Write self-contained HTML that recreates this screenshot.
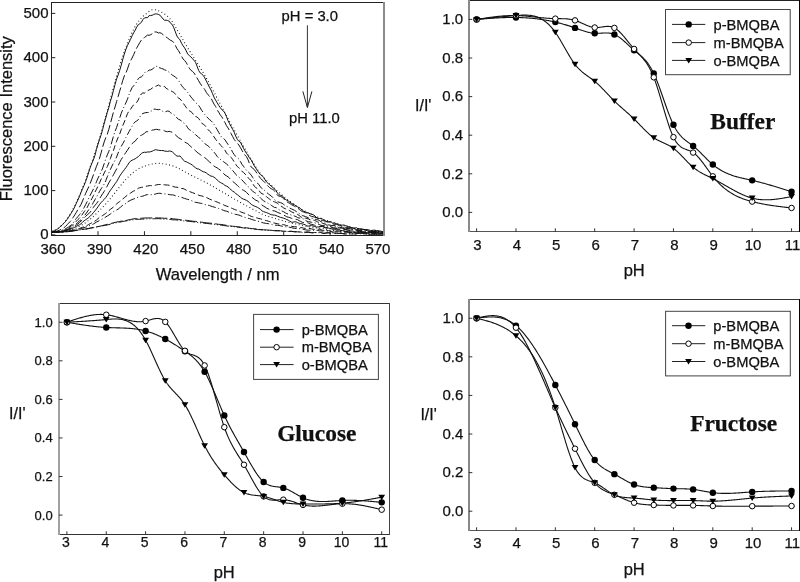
<!DOCTYPE html>
<html><head><meta charset="utf-8"><style>
html,body{margin:0;padding:0;background:#fff;}
svg{display:block;filter:grayscale(1);}
text{fill:#111;stroke:#111;stroke-width:0.25px;}
</style></head><body>
<svg width="800" height="582" viewBox="0 0 800 582">
<defs><clipPath id="clipA"><rect x="51.5" y="2.5" width="332.5" height="232.5"/></clipPath></defs>
<rect width="800" height="582" fill="#fff"/>
<g clip-path="url(#clipA)">
<path d="M51.6,231.35 L53.15,230.93 L54.69,230.27 L56.24,229.42 L57.79,228.44 L59.34,227.38 L60.88,226.14 L62.43,224.62 L63.98,222.88 L65.53,220.97 L67.07,218.94 L68.62,216.71 L70.17,214.22 L71.72,211.49 L73.26,208.6 L74.81,205.59 L76.36,202.4 L77.9,198.98 L79.45,195.36 L81,191.61 L82.55,187.77 L84.09,183.81 L85.64,179.67 L87.19,175.4 L88.74,171.04 L90.28,166.61 L91.83,162.13 L93.38,157.57 L94.93,152.91 L96.47,148.13 L98.02,143.21 L99.57,138.13 L101.11,132.87 L102.66,127.49 L104.21,122.01 L105.76,116.47 L107.3,110.78 L108.85,104.93 L110.4,99.02 L111.95,93.17 L113.49,87.49 L115.04,81.9 L116.59,76.33 L118.14,70.89 L119.68,65.66 L121.23,60.74 L122.78,56.09 L124.32,51.61 L125.87,47.34 L127.42,43.32 L128.97,39.58 L130.51,36.02 L132.06,32.59 L133.61,29.38 L135.16,26.49 L136.7,23.99 L138.25,21.82 L139.8,19.82 L141.35,18.03 L142.89,16.45 L144.44,15.11 L145.99,13.85 L147.53,12.58 L149.08,11.42 L150.63,10.46 L152.18,9.81 L153.72,9.58 L155.27,9.73 L156.82,10.11 L158.37,10.69 L159.91,11.39 L161.46,12.18 L163.01,12.99 L164.56,13.93 L166.1,15.11 L167.65,16.49 L169.2,18.04 L170.74,19.73 L172.29,21.72 L173.84,24.09 L175.39,26.7 L176.93,29.41 L178.48,32.06 L180.03,34.69 L181.58,37.41 L183.12,40.15 L184.67,42.87 L186.22,45.5 L187.77,48.03 L189.31,50.51 L190.86,52.95 L192.41,55.38 L193.95,57.83 L195.5,60.27 L197.05,62.71 L198.6,65.15 L200.14,67.62 L201.69,70.15 L203.24,72.75 L204.79,75.39 L206.33,78.09 L207.88,80.82 L209.43,83.6 L210.98,86.43 L212.52,89.34 L214.07,92.28 L215.62,95.22 L217.16,98.15 L218.71,101.07 L220.26,103.98 L221.81,106.89 L223.35,109.8 L224.9,112.71 L226.45,115.64 L228,118.59 L229.54,121.53 L231.09,124.44 L232.64,127.27 L234.19,130.03 L235.73,132.73 L237.28,135.39 L238.83,138.04 L240.37,140.72 L241.92,143.42 L243.47,146.15 L245.02,148.87 L246.56,151.55 L248.11,154.16 L249.66,156.75 L251.21,159.36 L252.75,161.96 L254.3,164.52 L255.85,167 L257.4,169.37 L258.94,171.6 L260.49,173.66 L262.04,175.56 L263.58,177.36 L265.13,179.08 L266.68,180.73 L268.23,182.31 L269.77,183.83 L271.32,185.31 L272.87,186.79 L274.42,188.28 L275.96,189.75 L277.51,191.15 L279.06,192.48 L280.61,193.79 L282.15,195.12 L283.7,196.43 L285.25,197.69 L286.79,198.99 L288.34,200.24 L289.89,201.39 L291.44,202.48 L292.98,203.62 L294.53,204.77 L296.08,205.82 L297.63,206.78 L299.17,207.74 L300.72,208.73 L302.27,209.67 L303.82,210.46 L305.36,211.17 L306.91,212.18 L308.46,213.06 L310,213.93 L311.55,214.51 L313.1,215.2 L314.65,215.71 L316.19,216.28 L317.74,216.99 L319.29,217.59 L320.84,218.3 L322.38,219 L323.93,219.68 L325.48,220.25 L327.03,220.58 L328.57,220.98 L330.12,221.19 L331.67,221.95 L333.21,222.74 L334.76,223.5 L336.31,223.84 L337.86,224.28 L339.4,224.74 L340.95,225.22 L342.5,225.35 L344.05,225.82 L345.59,226.16 L347.14,226.75 L348.69,227.21 L350.24,227.79 L351.78,228.15 L353.33,228.31 L354.88,228.28 L356.42,228.3 L357.97,228.51 L359.52,228.63 L361.07,228.79 L362.61,229.1 L364.16,229.55 L365.71,230.01 L367.26,230.17 L368.8,230.44 L370.35,230.41 L371.9,230.57 L373.45,230.38 L374.99,230.57 L376.54,230.88 L378.09,231.15 L379.63,231.3 L381.18,231.39 L382.73,231.54 L384.28,231.59 L385.82,231.69" fill="none" stroke="#111" stroke-width="1.1" stroke-dasharray="0.9,2.6" stroke-linecap="butt"/>
<path d="M51.6,231.46 L53.15,231.09 L54.69,230.61 L56.24,229.81 L57.79,228.91 L59.34,227.56 L60.88,226.07 L62.43,224.67 L63.98,223.26 L65.53,221.52 L67.07,219.42 L68.62,217.24 L70.17,214.77 L71.72,212.34 L73.26,209.81 L74.81,206.71 L76.36,203.14 L77.9,200.03 L79.45,196.42 L81,192.41 L82.55,188.61 L84.09,185.32 L85.64,181.5 L87.19,177.09 L88.74,172.06 L90.28,167.34 L91.83,163.29 L93.38,159.94 L94.93,155.48 L96.47,149.39 L98.02,143.98 L99.57,139.25 L101.11,134.83 L102.66,129.43 L104.21,123.16 L105.76,117.83 L107.3,112.32 L108.85,107.41 L110.4,101.14 L111.95,96.31 L113.49,90.22 L115.04,84.62 L116.59,78.85 L118.14,74.98 L119.68,70.4 L121.23,65.26 L122.78,59.36 L124.32,54.01 L125.87,49.48 L127.42,45.6 L128.97,42.46 L130.51,39.34 L132.06,35.89 L133.61,32.87 L135.16,30.25 L136.7,27.19 L138.25,24.72 L139.8,23.68 L141.35,22.41 L142.89,19.57 L144.44,17.9 L145.99,17.64 L147.53,17.69 L149.08,15.63 L150.63,15.54 L152.18,15.24 L153.72,14.56 L155.27,13.85 L156.82,13.94 L158.37,14.42 L159.91,15.15 L161.46,16.99 L163.01,18.96 L164.56,20.26 L166.1,20.16 L167.65,20.59 L169.2,21.15 L170.74,23.44 L172.29,24.6 L173.84,27.84 L175.39,31.95 L176.93,36.04 L178.48,38.19 L180.03,39.92 L181.58,43.32 L183.12,45.93 L184.67,47.93 L186.22,50.91 L187.77,54.21 L189.31,55.52 L190.86,56.88 L192.41,58.58 L193.95,60.32 L195.5,62.32 L197.05,66.17 L198.6,70.38 L200.14,72.86 L201.69,73.96 L203.24,75.47 L204.79,77.86 L206.33,81.17 L207.88,84.01 L209.43,87.14 L210.98,89.98 L212.52,93.63 L214.07,97.23 L215.62,100.22 L217.16,102.79 L218.71,105.42 L220.26,107.65 L221.81,109.73 L223.35,110.82 L224.9,113.09 L226.45,116.54 L228,120.69 L229.54,123.62 L231.09,126.55 L232.64,129.34 L234.19,132.28 L235.73,136.24 L237.28,139.29 L238.83,141.24 L240.37,142.12 L241.92,145.09 L243.47,148.28 L245.02,150.99 L246.56,153.41 L248.11,155.76 L249.66,158.17 L251.21,160.13 L252.75,162.96 L254.3,165.98 L255.85,168.13 L257.4,170.63 L258.94,172.82 L260.49,174.76 L262.04,175.58 L263.58,177.48 L265.13,179.96 L266.68,182.14 L268.23,183.53 L269.77,184.77 L271.32,186.35 L272.87,187.31 L274.42,188.92 L275.96,190.58 L277.51,193.05 L279.06,194.72 L280.61,195.37 L282.15,195.85 L283.7,197.29 L285.25,199.35 L286.79,200.22 L288.34,200.95 L289.89,202.11 L291.44,203.33 L292.98,204.21 L294.53,204.75 L296.08,206.14 L297.63,206.86 L299.17,207.72 L300.72,208.66 L302.27,210.29 L303.82,211.39 L305.36,211.92 L306.91,212.54 L308.46,213.04 L310,213.73 L311.55,214.03 L313.1,214.74 L314.65,215.65 L316.19,217.33 L317.74,218.3 L319.29,218.46 L320.84,218.42 L322.38,219 L323.93,219.9 L325.48,220.73 L327.03,221.7 L328.57,221.77 L330.12,221.91 L331.67,222.41 L333.21,223.73 L334.76,224.36 L336.31,224.16 L337.86,223.95 L339.4,224.62 L340.95,225.15 L342.5,225.1 L344.05,225.05 L345.59,225.64 L347.14,226.1 L348.69,226.53 L350.24,226.91 L351.78,227.68 L353.33,227.85 L354.88,228.05 L356.42,227.72 L357.97,228.66 L359.52,229.09 L361.07,229.33 L362.61,229.11 L364.16,229.46 L365.71,229.63 L367.26,229.58 L368.8,229.99 L370.35,230.44 L371.9,230.47 L373.45,230.13 L374.99,230.21 L376.54,230.65 L378.09,231.03 L379.63,230.95 L381.18,231.26 L382.73,231.86 L384.28,232.19 L385.82,231.97" fill="none" stroke="#111" stroke-width="1.0" stroke-linecap="butt"/>
<path d="M51.6,232.13 L53.15,231.93 L54.69,231.59 L56.24,231.33 L57.79,230.83 L59.34,230.27 L60.88,229.4 L62.43,228.63 L63.98,227.67 L65.53,226.43 L67.07,224.79 L68.62,223.14 L70.17,221.54 L71.72,219.54 L73.26,217.27 L74.81,214.89 L76.36,212.27 L77.9,209.67 L79.45,207.1 L81,204.43 L82.55,200.92 L84.09,197.18 L85.64,193.37 L87.19,190.11 L88.74,186.85 L90.28,183.19 L91.83,179.13 L93.38,174.83 L94.93,170.56 L96.47,166.38 L98.02,162.44 L99.57,158.17 L101.11,152.82 L102.66,146.97 L104.21,141.9 L105.76,137.7 L107.3,134.24 L108.85,129.22 L110.4,123.57 L111.95,117.65 L113.49,112.02 L115.04,106.94 L116.59,101.63 L118.14,96.48 L119.68,91.11 L121.23,85.83 L122.78,80.36 L124.32,75.93 L125.87,73.03 L127.42,69.18 L128.97,64.41 L130.51,60.85 L132.06,58.1 L133.61,54.76 L135.16,51.19 L136.7,47.93 L138.25,45.31 L139.8,42.5 L141.35,40.22 L142.89,38.53 L144.44,37.56 L145.99,36.31 L147.53,35.13 L149.08,35.24 L150.63,34.75 L152.18,33.86 L153.72,31.99 L155.27,31.91 L156.82,32.07 L158.37,32.99 L159.91,32.74 L161.46,33.33 L163.01,34.58 L164.56,36.06 L166.1,37.11 L167.65,38.08 L169.2,39.37 L170.74,40.44 L172.29,41.05 L173.84,42.76 L175.39,45.38 L176.93,48.67 L178.48,50.61 L180.03,53.43 L181.58,56.31 L183.12,58.99 L184.67,60.54 L186.22,62.58 L187.77,65.24 L189.31,68.22 L190.86,70.23 L192.41,71.33 L193.95,72.85 L195.5,75.35 L197.05,78.01 L198.6,80.71 L200.14,83.31 L201.69,85.73 L203.24,87.46 L204.79,89.59 L206.33,92.4 L207.88,94.62 L209.43,96.03 L210.98,98.06 L212.52,101.17 L214.07,104.26 L215.62,106.49 L217.16,109.81 L218.71,112.2 L220.26,114.9 L221.81,116.72 L223.35,119.7 L224.9,122.43 L226.45,125.61 L228,127.91 L229.54,130.6 L231.09,133.52 L232.64,136.54 L234.19,139.38 L235.73,141.4 L237.28,143.12 L238.83,145.02 L240.37,147.52 L241.92,150.28 L243.47,152.95 L245.02,155.12 L246.56,156.78 L248.11,159.92 L249.66,164.09 L251.21,167.09 L252.75,168.22 L254.3,169.51 L255.85,171.72 L257.4,174.04 L258.94,176.2 L260.49,178.21 L262.04,179.91 L263.58,181.22 L265.13,182.82 L266.68,184.72 L268.23,186.26 L269.77,187.79 L271.32,188.77 L272.87,189.47 L274.42,190.75 L275.96,193.17 L277.51,195.31 L279.06,196.15 L280.61,196.54 L282.15,197.33 L283.7,198.8 L285.25,200.56 L286.79,201.64 L288.34,202.65 L289.89,203.45 L291.44,204.68 L292.98,205.35 L294.53,206.36 L296.08,207.1 L297.63,208.04 L299.17,209.38 L300.72,210.55 L302.27,211.52 L303.82,212.07 L305.36,212.62 L306.91,213.38 L308.46,214.48 L310,215.71 L311.55,216.4 L313.1,216.67 L314.65,217.24 L316.19,217.63 L317.74,218.18 L319.29,218.69 L320.84,219.93 L322.38,220.59 L323.93,220.77 L325.48,221.37 L327.03,221.86 L328.57,221.87 L330.12,221.79 L331.67,222.56 L333.21,222.83 L334.76,222.91 L336.31,223.79 L337.86,224.98 L339.4,225.64 L340.95,225.85 L342.5,226.78 L344.05,227.1 L345.59,227.32 L347.14,227.19 L348.69,227.66 L350.24,227.65 L351.78,227.98 L353.33,228.48 L354.88,228.85 L356.42,228.61 L357.97,228.67 L359.52,228.82 L361.07,229.15 L362.61,229.47 L364.16,229.67 L365.71,229.93 L367.26,229.94 L368.8,230.39 L370.35,230.39 L371.9,230.94 L373.45,231.27 L374.99,231.25 L376.54,230.97 L378.09,230.99 L379.63,231.43 L381.18,231.53 L382.73,231.87 L384.28,232.24 L385.82,232.41" fill="none" stroke="#111" stroke-width="1.0" stroke-dasharray="10,3" stroke-linecap="butt"/>
<path d="M51.6,232.27 L53.15,232.24 L54.69,232.1 L56.24,231.87 L57.79,231.65 L59.34,231.22 L60.88,230.6 L62.43,229.87 L63.98,229.25 L65.53,228.62 L67.07,227.97 L68.62,226.92 L70.17,225.78 L71.72,224.37 L73.26,222.69 L74.81,220.51 L76.36,218.38 L77.9,216.61 L79.45,214.72 L81,212.7 L82.55,210.13 L84.09,207.6 L85.64,204.66 L87.19,201.45 L88.74,198.24 L90.28,195.05 L91.83,192.1 L93.38,189.09 L94.93,185.83 L96.47,181.72 L98.02,178.1 L99.57,174.92 L101.11,171.94 L102.66,168.09 L104.21,163.7 L105.76,158.99 L107.3,154.89 L108.85,151.28 L110.4,146.78 L111.95,141.55 L113.49,136.08 L115.04,131.39 L116.59,127.51 L118.14,122.76 L119.68,118 L121.23,113.37 L122.78,109.51 L124.32,106.22 L125.87,102.83 L127.42,99.31 L128.97,94.86 L130.51,90.99 L132.06,87.62 L133.61,85.85 L135.16,84.21 L136.7,81.65 L138.25,78.7 L139.8,77.42 L141.35,76.92 L142.89,75.4 L144.44,73.1 L145.99,71.31 L147.53,71.45 L149.08,70.11 L150.63,69.98 L152.18,69.28 L153.72,68.15 L155.27,66.2 L156.82,66.26 L158.37,67.89 L159.91,67.78 L161.46,68.56 L163.01,68.87 L164.56,69.79 L166.1,70.33 L167.65,71.01 L169.2,72.38 L170.74,73.65 L172.29,75.16 L173.84,75.94 L175.39,77.12 L176.93,78.44 L178.48,80.31 L180.03,82.93 L181.58,85.53 L183.12,87.54 L184.67,88.98 L186.22,90.72 L187.77,92.53 L189.31,94.74 L190.86,96.93 L192.41,98.66 L193.95,100.62 L195.5,102.34 L197.05,103.78 L198.6,105.41 L200.14,107.59 L201.69,110.48 L203.24,112.31 L204.79,114.62 L206.33,116.22 L207.88,118.06 L209.43,119.47 L210.98,120.7 L212.52,122.3 L214.07,124.41 L215.62,127.14 L217.16,129.61 L218.71,132.36 L220.26,135.21 L221.81,137.36 L223.35,138.45 L224.9,139.65 L226.45,142.16 L228,144.44 L229.54,146.69 L231.09,149.14 L232.64,152.25 L234.19,154.61 L235.73,156.53 L237.28,157.48 L238.83,159.01 L240.37,161.45 L241.92,164.28 L243.47,166.23 L245.02,168.41 L246.56,170.35 L248.11,171.92 L249.66,173.27 L251.21,175.11 L252.75,177.55 L254.3,180.19 L255.85,181.95 L257.4,182.96 L258.94,184.75 L260.49,186.95 L262.04,188.66 L263.58,189.64 L265.13,190.97 L266.68,192.43 L268.23,193.82 L269.77,194.97 L271.32,196.03 L272.87,197.63 L274.42,199.58 L275.96,200.92 L277.51,201.78 L279.06,202.17 L280.61,202.72 L282.15,203.28 L283.7,204.45 L285.25,205.61 L286.79,206.33 L288.34,207.25 L289.89,208.1 L291.44,208.96 L292.98,209.6 L294.53,210.35 L296.08,211.4 L297.63,212.22 L299.17,213.43 L300.72,214.35 L302.27,215.54 L303.82,215.96 L305.36,216.57 L306.91,217.07 L308.46,217.98 L310,218.21 L311.55,218.19 L313.1,218.37 L314.65,218.9 L316.19,219.61 L317.74,219.74 L319.29,220.47 L320.84,221.62 L322.38,222.39 L323.93,222.65 L325.48,223.1 L327.03,224.13 L328.57,224.9 L330.12,225.18 L331.67,225.56 L333.21,225.27 L334.76,225.25 L336.31,225.82 L337.86,227.07 L339.4,227.67 L340.95,227.98 L342.5,228.07 L344.05,228.12 L345.59,228.15 L347.14,228.59 L348.69,228.73 L350.24,228.44 L351.78,228.18 L353.33,228.52 L354.88,228.97 L356.42,229.6 L357.97,229.82 L359.52,230.3 L361.07,230.26 L362.61,230.65 L364.16,230.94 L365.71,231.22 L367.26,230.93 L368.8,231.12 L370.35,231.49 L371.9,231.64 L373.45,231.39 L374.99,231.56 L376.54,231.76 L378.09,231.9 L379.63,231.6 L381.18,231.51 L382.73,231.87 L384.28,232.78 L385.82,233.03" fill="none" stroke="#111" stroke-width="1.0" stroke-dasharray="8,2.5,1,2.5" stroke-linecap="butt"/>
<path d="M51.6,232.15 L53.15,232.06 L54.69,231.94 L56.24,231.89 L57.79,231.87 L59.34,231.7 L60.88,231.25 L62.43,230.61 L63.98,230.17 L65.53,229.55 L67.07,228.91 L68.62,227.82 L70.17,226.78 L71.72,225.64 L73.26,224.53 L74.81,222.92 L76.36,221.19 L77.9,219.56 L79.45,218.13 L81,216.42 L82.55,214.03 L84.09,211.87 L85.64,209.75 L87.19,207.46 L88.74,204.24 L90.28,201.48 L91.83,198.65 L93.38,195.67 L94.93,192.29 L96.47,189.31 L98.02,185.96 L99.57,182.77 L101.11,179.14 L102.66,176.41 L104.21,172.93 L105.76,169.95 L107.3,166.57 L108.85,162.91 L110.4,158.64 L111.95,154.14 L113.49,150.43 L115.04,145.54 L116.59,141.2 L118.14,137.38 L119.68,134.13 L121.23,129.67 L122.78,125.59 L124.32,122.02 L125.87,117.94 L127.42,113.75 L128.97,111.03 L130.51,109.38 L132.06,106.88 L133.61,104.85 L135.16,103.85 L136.7,102.39 L138.25,99.95 L139.8,96.17 L141.35,93.93 L142.89,92.83 L144.44,93.2 L145.99,92.03 L147.53,90.82 L149.08,89.93 L150.63,89.35 L152.18,88.07 L153.72,87.09 L155.27,86.57 L156.82,85.83 L158.37,84.97 L159.91,86.01 L161.46,86.31 L163.01,86.85 L164.56,86.37 L166.1,88.32 L167.65,89.16 L169.2,90.25 L170.74,90.78 L172.29,91.56 L173.84,92.36 L175.39,94.23 L176.93,96.49 L178.48,98.02 L180.03,98.89 L181.58,100.74 L183.12,103.08 L184.67,105.24 L186.22,107.36 L187.77,109.72 L189.31,110.71 L190.86,111.64 L192.41,112.95 L193.95,115.48 L195.5,116.47 L197.05,117.08 L198.6,118.41 L200.14,120.62 L201.69,123.17 L203.24,124.15 L204.79,125.3 L206.33,127.16 L207.88,129.35 L209.43,131.07 L210.98,132.49 L212.52,134.66 L214.07,136.94 L215.62,139.34 L217.16,141.15 L218.71,142.7 L220.26,144.86 L221.81,146.36 L223.35,147.97 L224.9,150.02 L226.45,152.96 L228,154.56 L229.54,155.78 L231.09,157.36 L232.64,159.32 L234.19,162 L235.73,164.33 L237.28,166.45 L238.83,167.73 L240.37,169.15 L241.92,171.34 L243.47,172.38 L245.02,174.04 L246.56,175.52 L248.11,177.88 L249.66,179.09 L251.21,180.84 L252.75,183.68 L254.3,186.22 L255.85,187.6 L257.4,188.56 L258.94,190.32 L260.49,192.7 L262.04,193.7 L263.58,194.35 L265.13,195.29 L266.68,196.93 L268.23,198.14 L269.77,199.28 L271.32,200.43 L272.87,201.29 L274.42,201.83 L275.96,202.4 L277.51,203.35 L279.06,204.64 L280.61,205.81 L282.15,206.81 L283.7,207.97 L285.25,208.72 L286.79,209.32 L288.34,209.94 L289.89,210.82 L291.44,211.74 L292.98,212.52 L294.53,213.17 L296.08,213.68 L297.63,214.5 L299.17,215.46 L300.72,216.75 L302.27,217.69 L303.82,218.22 L305.36,218.15 L306.91,218.46 L308.46,218.98 L310,219.78 L311.55,219.99 L313.1,219.97 L314.65,220.4 L316.19,221.16 L317.74,221.96 L319.29,222.58 L320.84,222.96 L322.38,223.28 L323.93,223.64 L325.48,224.43 L327.03,225.33 L328.57,226.27 L330.12,226.48 L331.67,225.97 L333.21,225.45 L334.76,225.95 L336.31,227.18 L337.86,227.63 L339.4,227.39 L340.95,227.67 L342.5,228.03 L344.05,228.19 L345.59,227.9 L347.14,228.25 L348.69,228.42 L350.24,228.85 L351.78,229.42 L353.33,229.98 L354.88,230.35 L356.42,230.18 L357.97,230.41 L359.52,230.89 L361.07,231.11 L362.61,230.64 L364.16,230.12 L365.71,230.15 L367.26,230.87 L368.8,231.62 L370.35,232.02 L371.9,231.82 L373.45,232.19 L374.99,232.33 L376.54,232.23 L378.09,232.07 L379.63,232.23 L381.18,232.07 L382.73,231.89 L384.28,231.87 L385.82,232.13" fill="none" stroke="#111" stroke-width="1.0" stroke-dasharray="6,3" stroke-linecap="butt"/>
<path d="M51.6,232.14 L53.15,232.11 L54.69,232.13 L56.24,232 L57.79,231.89 L59.34,231.8 L60.88,231.61 L62.43,231.23 L63.98,230.72 L65.53,230.13 L67.07,229.46 L68.62,228.82 L70.17,227.99 L71.72,226.93 L73.26,226.04 L74.81,225.25 L76.36,223.96 L77.9,222.25 L79.45,220.88 L81,219.77 L82.55,218.15 L84.09,216.18 L85.64,214.07 L87.19,211.99 L88.74,209.68 L90.28,207.82 L91.83,205.41 L93.38,202.47 L94.93,199.68 L96.47,197.04 L98.02,194.38 L99.57,191.3 L101.11,188.82 L102.66,186.5 L104.21,184.01 L105.76,180.7 L107.3,176.79 L108.85,172.9 L110.4,169.45 L111.95,166.08 L113.49,163.04 L115.04,160.24 L116.59,156.96 L118.14,153.04 L119.68,149.19 L121.23,146.41 L122.78,143.63 L124.32,140.91 L125.87,137.52 L127.42,134.74 L128.97,131.75 L130.51,129.07 L132.06,126.24 L133.61,123.52 L135.16,121.79 L136.7,121.01 L138.25,119.72 L139.8,116.99 L141.35,114.35 L142.89,113.49 L144.44,112.98 L145.99,112.58 L147.53,112.5 L149.08,112.43 L150.63,111.49 L152.18,110.43 L153.72,109.07 L155.27,109.19 L156.82,109.47 L158.37,109.72 L159.91,109.37 L161.46,110.19 L163.01,111.62 L164.56,112.13 L166.1,111.46 L167.65,111.01 L169.2,111.33 L170.74,112.87 L172.29,113.7 L173.84,114.62 L175.39,115.98 L176.93,117.92 L178.48,119.27 L180.03,119.9 L181.58,121.11 L183.12,122.61 L184.67,123.74 L186.22,125.36 L187.77,127.85 L189.31,129.74 L190.86,130.43 L192.41,131.46 L193.95,133.14 L195.5,134.72 L197.05,135.93 L198.6,137.4 L200.14,138.46 L201.69,140.26 L203.24,142.02 L204.79,143.62 L206.33,144.71 L207.88,145.74 L209.43,147.16 L210.98,148.79 L212.52,150.54 L214.07,152.19 L215.62,154.19 L217.16,156.35 L218.71,158.01 L220.26,159.26 L221.81,160.46 L223.35,161.5 L224.9,162.73 L226.45,163.89 L228,165.3 L229.54,167.2 L231.09,169.02 L232.64,170.52 L234.19,172.26 L235.73,174.35 L237.28,175.84 L238.83,177.09 L240.37,178.46 L241.92,180.06 L243.47,181.49 L245.02,183.31 L246.56,184.92 L248.11,186.63 L249.66,187.94 L251.21,189.8 L252.75,191.25 L254.3,192.41 L255.85,193.28 L257.4,194.84 L258.94,196.42 L260.49,198.01 L262.04,199.51 L263.58,200.83 L265.13,201.71 L266.68,202.33 L268.23,203.32 L269.77,204.13 L271.32,205.39 L272.87,206.39 L274.42,207.38 L275.96,207.6 L277.51,208.3 L279.06,209.64 L280.61,210.67 L282.15,211.15 L283.7,211.72 L285.25,212.83 L286.79,213.68 L288.34,214.12 L289.89,214.4 L291.44,215.19 L292.98,215.53 L294.53,216.05 L296.08,216.6 L297.63,217.57 L299.17,218.06 L300.72,218.11 L302.27,218.43 L303.82,219.16 L305.36,220.37 L306.91,221.21 L308.46,221.69 L310,221.91 L311.55,222.31 L313.1,222.4 L314.65,222.81 L316.19,223.22 L317.74,223.76 L319.29,224.48 L320.84,225.24 L322.38,225.6 L323.93,225.38 L325.48,225.55 L327.03,225.93 L328.57,226.37 L330.12,226.8 L331.67,227.48 L333.21,228.16 L334.76,228.16 L336.31,228.1 L337.86,228.28 L339.4,228.49 L340.95,228.14 L342.5,228.37 L344.05,229.15 L345.59,229.62 L347.14,229.91 L348.69,229.95 L350.24,230.01 L351.78,230 L353.33,230.15 L354.88,230.16 L356.42,229.98 L357.97,229.9 L359.52,230.56 L361.07,231.1 L362.61,231.58 L364.16,231.78 L365.71,231.95 L367.26,231.83 L368.8,231.81 L370.35,231.82 L371.9,231.83 L373.45,232.15 L374.99,232.4 L376.54,232.05 L378.09,231.81 L379.63,232.3 L381.18,232.86 L382.73,233.01 L384.28,232.4 L385.82,232.24" fill="none" stroke="#111" stroke-width="1.0" stroke-dasharray="7,2.5,1,2.5" stroke-linecap="butt"/>
<path d="M51.6,232.12 L53.15,232.04 L54.69,232.05 L56.24,232.02 L57.79,231.94 L59.34,231.86 L60.88,231.73 L62.43,231.4 L63.98,231.01 L65.53,230.54 L67.07,229.99 L68.62,229.24 L70.17,228.65 L71.72,227.96 L73.26,227 L74.81,225.85 L76.36,224.93 L77.9,223.97 L79.45,222.59 L81,221.1 L82.55,219.74 L84.09,218.07 L85.64,216.35 L87.19,214.86 L88.74,213.69 L90.28,212.08 L91.83,209.76 L93.38,207.36 L94.93,205.36 L96.47,203.67 L98.02,201.38 L99.57,198.61 L101.11,196.15 L102.66,193.69 L104.21,191.37 L105.76,188.61 L107.3,185.91 L108.85,182.86 L110.4,180.24 L111.95,177.67 L113.49,174.73 L115.04,171.9 L116.59,168.98 L118.14,165.92 L119.68,162.35 L121.23,159.51 L122.78,157.05 L124.32,154.71 L125.87,152.43 L127.42,150.2 L128.97,147.82 L130.51,145.31 L132.06,143.65 L133.61,142.22 L135.16,141.21 L136.7,139.15 L138.25,137.55 L139.8,135.73 L141.35,135.3 L142.89,134.39 L144.44,133.37 L145.99,131.84 L147.53,131.61 L149.08,131.17 L150.63,130.74 L152.18,130.12 L153.72,129.88 L155.27,129.49 L156.82,129.3 L158.37,129.8 L159.91,129.85 L161.46,129.89 L163.01,130.05 L164.56,130.87 L166.1,131.54 L167.65,131.73 L169.2,131.37 L170.74,131.75 L172.29,132.27 L173.84,133.35 L175.39,134.82 L176.93,136.33 L178.48,137.67 L180.03,138.6 L181.58,139.53 L183.12,140.46 L184.67,142.05 L186.22,142.83 L187.77,143.64 L189.31,145 L190.86,146.74 L192.41,147.95 L193.95,149.3 L195.5,150.56 L197.05,152.39 L198.6,153.34 L200.14,154.53 L201.69,155.51 L203.24,156.94 L204.79,157.61 L206.33,158.92 L207.88,160.38 L209.43,161.84 L210.98,163.08 L212.52,164.83 L214.07,166.13 L215.62,167.09 L217.16,167.86 L218.71,168.94 L220.26,170.14 L221.81,171.49 L223.35,173.21 L224.9,174.95 L226.45,175.82 L228,176.82 L229.54,178.17 L231.09,179.98 L232.64,181.33 L234.19,182.63 L235.73,183.92 L237.28,185.34 L238.83,186.91 L240.37,188.4 L241.92,189.5 L243.47,190.28 L245.02,191.11 L246.56,192.46 L248.11,194.15 L249.66,195.53 L251.21,196.51 L252.75,197.87 L254.3,199.2 L255.85,200.26 L257.4,200.82 L258.94,202.3 L260.49,203.96 L262.04,205.18 L263.58,206.13 L265.13,207.07 L266.68,208.18 L268.23,208.85 L269.77,209.83 L271.32,210.47 L272.87,210.73 L274.42,210.92 L275.96,211.51 L277.51,212.44 L279.06,212.97 L280.61,213.5 L282.15,213.94 L283.7,215.1 L285.25,215.92 L286.79,216.82 L288.34,217.15 L289.89,217.65 L291.44,218.22 L292.98,218.88 L294.53,219.14 L296.08,219.28 L297.63,219.75 L299.17,220.65 L300.72,221.47 L302.27,222.27 L303.82,222.56 L305.36,222.54 L306.91,222.58 L308.46,223.05 L310,223.94 L311.55,224.39 L313.1,224.69 L314.65,225.25 L316.19,226.17 L317.74,226.51 L319.29,226.52 L320.84,226.14 L322.38,226.17 L323.93,226.61 L325.48,227.45 L327.03,227.34 L328.57,227.44 L330.12,227.61 L331.67,228.01 L333.21,227.75 L334.76,227.98 L336.31,228.47 L337.86,228.97 L339.4,229.23 L340.95,229.18 L342.5,229.44 L344.05,229.31 L345.59,229.6 L347.14,229.83 L348.69,230.52 L350.24,230.72 L351.78,230.92 L353.33,230.92 L354.88,230.9 L356.42,231.1 L357.97,231.52 L359.52,231.62 L361.07,231.55 L362.61,231.72 L364.16,231.84 L365.71,231.61 L367.26,232.11 L368.8,232.71 L370.35,232.65 L371.9,232 L373.45,232.11 L374.99,232.13 L376.54,232.38 L378.09,232.55 L379.63,232.85 L381.18,232.75 L382.73,232.64 L384.28,232.49 L385.82,232.55" fill="none" stroke="#111" stroke-width="1.0" stroke-dasharray="9,3.5" stroke-linecap="butt"/>
<path d="M51.6,232.16 L53.15,232.17 L54.69,232.18 L56.24,232.08 L57.79,231.92 L59.34,231.78 L60.88,231.73 L62.43,231.54 L63.98,231.31 L65.53,230.9 L67.07,230.51 L68.62,230.06 L70.17,229.45 L71.72,228.65 L73.26,227.91 L74.81,227.18 L76.36,226.36 L77.9,225.54 L79.45,224.85 L81,223.72 L82.55,222.19 L84.09,220.79 L85.64,219.73 L87.19,218.68 L88.74,217.56 L90.28,216.18 L91.83,214.56 L93.38,212.6 L94.93,210.88 L96.47,208.86 L98.02,206.79 L99.57,204.34 L101.11,202.53 L102.66,200.89 L104.21,199.38 L105.76,197.52 L107.3,195.49 L108.85,192.67 L110.4,190.33 L111.95,188.16 L113.49,186.01 L115.04,183.8 L116.59,181.69 L118.14,178.88 L119.68,176.14 L121.23,173.82 L122.78,171.72 L124.32,169.74 L125.87,167.7 L127.42,165.43 L128.97,162.91 L130.51,161.17 L132.06,160.2 L133.61,159.57 L135.16,158.81 L136.7,157.66 L138.25,156.67 L139.8,155.18 L141.35,153.44 L142.89,152.6 L144.44,152.22 L145.99,152.35 L147.53,151.98 L149.08,151.99 L150.63,151.72 L152.18,151.24 L153.72,150.36 L155.27,149.73 L156.82,149.89 L158.37,150.31 L159.91,150.42 L161.46,150.57 L163.01,150.49 L164.56,151.05 L166.1,151.25 L167.65,151.36 L169.2,150.99 L170.74,151.18 L172.29,151.89 L173.84,153.23 L175.39,154.98 L176.93,156.05 L178.48,156.18 L180.03,155.97 L181.58,157.72 L183.12,159.8 L184.67,161.25 L186.22,161.78 L187.77,162.58 L189.31,163.33 L190.86,164.13 L192.41,165.18 L193.95,166.53 L195.5,167.72 L197.05,168.82 L198.6,169.01 L200.14,169.94 L201.69,170.9 L203.24,171.72 L204.79,172.14 L206.33,172.91 L207.88,174.22 L209.43,175.23 L210.98,176.14 L212.52,176.37 L214.07,177.25 L215.62,178.34 L217.16,179.97 L218.71,181.37 L220.26,182.42 L221.81,183.25 L223.35,184.11 L224.9,185.35 L226.45,186.14 L228,186.9 L229.54,188.36 L231.09,189.79 L232.64,191.14 L234.19,192.04 L235.73,193.56 L237.28,194.57 L238.83,195.88 L240.37,197.14 L241.92,198.42 L243.47,199.12 L245.02,199.72 L246.56,200.39 L248.11,201.41 L249.66,202.75 L251.21,204.28 L252.75,205.32 L254.3,206.01 L255.85,206.6 L257.4,207.37 L258.94,208.3 L260.49,209.39 L262.04,210.88 L263.58,211.64 L265.13,212.16 L266.68,212.61 L268.23,213.32 L269.77,214.05 L271.32,214.69 L272.87,214.98 L274.42,215.1 L275.96,215.47 L277.51,216.21 L279.06,216.78 L280.61,217.44 L282.15,217.72 L283.7,218.23 L285.25,218.77 L286.79,219.65 L288.34,220.23 L289.89,221.27 L291.44,222.15 L292.98,222.22 L294.53,221.73 L296.08,221.88 L297.63,222.7 L299.17,223.24 L300.72,223.7 L302.27,223.85 L303.82,224.36 L305.36,224.84 L306.91,226.04 L308.46,226 L310,225.89 L311.55,225.42 L313.1,226.1 L314.65,226.5 L316.19,226.99 L317.74,227.03 L319.29,226.92 L320.84,226.58 L322.38,226.55 L323.93,227.36 L325.48,228.01 L327.03,228.15 L328.57,228.12 L330.12,228.46 L331.67,228.86 L333.21,229.39 L334.76,229.76 L336.31,229.63 L337.86,229.75 L339.4,230.14 L340.95,230.4 L342.5,230.59 L344.05,230.94 L345.59,231.53 L347.14,231.64 L348.69,231.96 L350.24,231.99 L351.78,232.07 L353.33,231.94 L354.88,231.91 L356.42,232.39 L357.97,232.27 L359.52,232.13 L361.07,232.09 L362.61,232.65 L364.16,232.59 L365.71,232.6 L367.26,232.71 L368.8,232.9 L370.35,232.69 L371.9,232.75 L373.45,232.73 L374.99,232.76 L376.54,232.72 L378.09,232.67 L379.63,232.71 L381.18,233.03 L382.73,233.32 L384.28,233.27 L385.82,233.12" fill="none" stroke="#111" stroke-width="1.0" stroke-linecap="butt"/>
<path d="M51.6,232.24 L53.15,232.25 L54.69,232.23 L56.24,232.19 L57.79,232.13 L59.34,232.05 L60.88,231.96 L62.43,231.8 L63.98,231.57 L65.53,231.29 L67.07,230.97 L68.62,230.63 L70.17,230.21 L71.72,229.7 L73.26,229.14 L74.81,228.53 L76.36,227.88 L77.9,227.15 L79.45,226.34 L81,225.47 L82.55,224.56 L84.09,223.6 L85.64,222.58 L87.19,221.49 L88.74,220.34 L90.28,219.17 L91.83,217.84 L93.38,216.44 L94.93,215 L96.47,213.51 L98.02,212 L99.57,210.47 L101.11,208.91 L102.66,207.31 L104.21,205.66 L105.76,203.96 L107.3,202.19 L108.85,200.37 L110.4,198.5 L111.95,196.61 L113.49,194.67 L115.04,192.67 L116.59,190.65 L118.14,188.67 L119.68,186.75 L121.23,184.84 L122.78,182.95 L124.32,181.14 L125.87,179.43 L127.42,177.83 L128.97,176.3 L130.51,174.85 L132.06,173.49 L133.61,172.24 L135.16,171.04 L136.7,169.9 L138.25,168.95 L139.8,168.11 L141.35,167.4 L142.89,166.76 L144.44,166.18 L145.99,165.66 L147.53,165.21 L149.08,164.82 L150.63,164.43 L152.18,164.05 L153.72,163.72 L155.27,163.48 L156.82,163.34 L158.37,163.34 L159.91,163.43 L161.46,163.59 L163.01,163.8 L164.56,164.04 L166.1,164.3 L167.65,164.56 L169.2,164.9 L170.74,165.31 L172.29,165.77 L173.84,166.29 L175.39,166.85 L176.93,167.54 L178.48,168.33 L180.03,169.17 L181.58,170.02 L183.12,170.84 L184.67,171.68 L186.22,172.54 L187.77,173.4 L189.31,174.24 L190.86,175.05 L192.41,175.83 L193.95,176.61 L195.5,177.37 L197.05,178.14 L198.6,178.91 L200.14,179.67 L201.69,180.44 L203.24,181.21 L204.79,181.99 L206.33,182.8 L207.88,183.62 L209.43,184.46 L210.98,185.31 L212.52,186.17 L214.07,187.05 L215.62,187.96 L217.16,188.87 L218.71,189.8 L220.26,190.72 L221.81,191.64 L223.35,192.55 L224.9,193.46 L226.45,194.38 L228,195.29 L229.54,196.2 L231.09,197.13 L232.64,198.05 L234.19,198.97 L235.73,199.87 L237.28,200.75 L238.83,201.6 L240.37,202.44 L241.92,203.28 L243.47,204.11 L245.02,204.96 L246.56,205.81 L248.11,206.67 L249.66,207.51 L251.21,208.35 L252.75,209.16 L254.3,209.97 L255.85,210.79 L257.4,211.61 L258.94,212.4 L260.49,213.16 L262.04,213.89 L263.58,214.56 L265.13,215.18 L266.68,215.76 L268.23,216.32 L269.77,216.85 L271.32,217.37 L272.87,217.86 L274.42,218.37 L275.96,218.84 L277.51,219.34 L279.06,219.76 L280.61,220.17 L282.15,220.5 L283.7,220.95 L285.25,221.45 L286.79,221.95 L288.34,222.27 L289.89,222.62 L291.44,223.15 L292.98,223.51 L294.53,223.77 L296.08,224 L297.63,224.47 L299.17,224.83 L300.72,225.21 L302.27,225.52 L303.82,225.88 L305.36,226.05 L306.91,226.34 L308.46,226.68 L310,226.96 L311.55,227.11 L313.1,227.35 L314.65,227.73 L316.19,227.89 L317.74,228.14 L319.29,228.34 L320.84,228.39 L322.38,228.41 L323.93,228.81 L325.48,229.45 L327.03,229.7 L328.57,229.9 L330.12,230.2 L331.67,230.52 L333.21,230.64 L334.76,230.5 L336.31,230.67 L337.86,230.58 L339.4,230.81 L340.95,230.85 L342.5,231.08 L344.05,231.06 L345.59,231.14 L347.14,231.47 L348.69,232.01 L350.24,232.31 L351.78,232.43 L353.33,232.38 L354.88,232.28 L356.42,232.12 L357.97,232.26 L359.52,232.64 L361.07,232.76 L362.61,232.74 L364.16,232.87 L365.71,232.93 L367.26,233.03 L368.8,232.92 L370.35,233.02 L371.9,232.84 L373.45,232.75 L374.99,232.75 L376.54,232.99 L378.09,233.11 L379.63,232.95 L381.18,232.8 L382.73,232.9 L384.28,233.13 L385.82,233.3" fill="none" stroke="#111" stroke-width="1.1" stroke-dasharray="0.9,2.6" stroke-linecap="butt"/>
<path d="M51.6,232.22 L53.15,232.26 L54.69,232.34 L56.24,232.21 L57.79,232.19 L59.34,232.14 L60.88,232.19 L62.43,232.1 L63.98,231.9 L65.53,231.59 L67.07,231.42 L68.62,231.31 L70.17,230.92 L71.72,230.4 L73.26,230.04 L74.81,229.84 L76.36,229.62 L77.9,229.11 L79.45,228.51 L81,227.88 L82.55,227.33 L84.09,226.68 L85.64,226.02 L87.19,225.35 L88.74,224.45 L90.28,223.6 L91.83,222.77 L93.38,221.98 L94.93,221.14 L96.47,220.04 L98.02,218.64 L99.57,217.37 L101.11,216.38 L102.66,215.48 L104.21,214.45 L105.76,213.44 L107.3,212 L108.85,210.69 L110.4,209.33 L111.95,208.22 L113.49,207.03 L115.04,205.51 L116.59,204.01 L118.14,202.64 L119.68,201.58 L121.23,200.3 L122.78,198.91 L124.32,197.76 L125.87,196.36 L127.42,195.13 L128.97,194.15 L130.51,193.12 L132.06,191.99 L133.61,191.09 L135.16,190.44 L136.7,189.5 L138.25,188.28 L139.8,187.79 L141.35,187.35 L142.89,187.13 L144.44,186.49 L145.99,186.27 L147.53,185.99 L149.08,185.71 L150.63,185.58 L152.18,185.8 L153.72,185.71 L155.27,185.24 L156.82,184.73 L158.37,184.53 L159.91,184.49 L161.46,184.43 L163.01,184.6 L164.56,184.77 L166.1,185 L167.65,185.03 L169.2,185.29 L170.74,185.72 L172.29,186.26 L173.84,186.76 L175.39,187.12 L176.93,187.23 L178.48,187.67 L180.03,188.19 L181.58,188.5 L183.12,188.56 L184.67,189.27 L186.22,190.15 L187.77,190.97 L189.31,191.46 L190.86,192.06 L192.41,192.63 L193.95,193.19 L195.5,193.81 L197.05,194.52 L198.6,195.17 L200.14,195.63 L201.69,195.91 L203.24,196.39 L204.79,196.94 L206.33,197.44 L207.88,198.19 L209.43,199.05 L210.98,199.74 L212.52,200.15 L214.07,200.9 L215.62,201.51 L217.16,202.06 L218.71,202.75 L220.26,203.31 L221.81,203.99 L223.35,204.63 L224.9,205.58 L226.45,206.05 L228,206.57 L229.54,207.2 L231.09,207.94 L232.64,208.64 L234.19,209.31 L235.73,209.82 L237.28,210.3 L238.83,210.86 L240.37,211.7 L241.92,212.37 L243.47,212.88 L245.02,213.42 L246.56,213.84 L248.11,214.69 L249.66,215.63 L251.21,216.37 L252.75,216.78 L254.3,217.17 L255.85,217.71 L257.4,218.04 L258.94,218.5 L260.49,218.85 L262.04,219.31 L263.58,219.73 L265.13,220.25 L266.68,220.69 L268.23,221.14 L269.77,221.65 L271.32,222.28 L272.87,222.83 L274.42,223.06 L275.96,223.46 L277.51,223.74 L279.06,224.11 L280.61,224.11 L282.15,224.37 L283.7,224.69 L285.25,225.12 L286.79,225.68 L288.34,225.94 L289.89,226.06 L291.44,226.27 L292.98,226.57 L294.53,226.78 L296.08,226.81 L297.63,227.35 L299.17,227.57 L300.72,227.66 L302.27,227.69 L303.82,228.18 L305.36,228.42 L306.91,228.35 L308.46,228.32 L310,228.51 L311.55,228.94 L313.1,229.23 L314.65,229.46 L316.19,229.5 L317.74,229.23 L319.29,229.22 L320.84,229.61 L322.38,230.16 L323.93,230.48 L325.48,230.57 L327.03,230.63 L328.57,230.63 L330.12,230.96 L331.67,231.39 L333.21,231.44 L334.76,231.56 L336.31,231.24 L337.86,231.12 L339.4,231.22 L340.95,231.94 L342.5,231.87 L344.05,231.49 L345.59,231.3 L347.14,231.77 L348.69,232.08 L350.24,232.33 L351.78,232.16 L353.33,232.11 L354.88,232.45 L356.42,233.05 L357.97,233.55 L359.52,233.37 L361.07,233 L362.61,232.31 L364.16,232.07 L365.71,232.37 L367.26,232.8 L368.8,232.97 L370.35,232.72 L371.9,232.94 L373.45,233.09 L374.99,233.11 L376.54,232.86 L378.09,233 L379.63,233.24 L381.18,233.59 L382.73,233.7 L384.28,233.82 L385.82,233.81" fill="none" stroke="#111" stroke-width="1.0" stroke-dasharray="6,3" stroke-linecap="butt"/>
<path d="M51.6,232.22 L53.15,232.21 L54.69,232.15 L56.24,232.11 L57.79,232.08 L59.34,232.14 L60.88,232.14 L62.43,232.04 L63.98,231.93 L65.53,231.88 L67.07,231.8 L68.62,231.62 L70.17,231.38 L71.72,231.11 L73.26,230.77 L74.81,230.46 L76.36,230.11 L77.9,229.75 L79.45,229.32 L81,228.8 L82.55,228.24 L84.09,227.65 L85.64,227.17 L87.19,226.56 L88.74,225.9 L90.28,225.24 L91.83,224.7 L93.38,223.97 L94.93,223.05 L96.47,222.08 L98.02,221.3 L99.57,220.49 L101.11,219.63 L102.66,218.85 L104.21,218 L105.76,217.03 L107.3,216.01 L108.85,215.12 L110.4,213.95 L111.95,212.68 L113.49,211.58 L115.04,210.76 L116.59,210 L118.14,209.09 L119.68,207.94 L121.23,206.38 L122.78,205.33 L124.32,204.49 L125.87,203.37 L127.42,202.01 L128.97,201.04 L130.51,200.31 L132.06,199.59 L133.61,199 L135.16,198.39 L136.7,197.56 L138.25,197.12 L139.8,196.6 L141.35,196.41 L142.89,196.13 L144.44,195.53 L145.99,194.88 L147.53,194.59 L149.08,194.88 L150.63,194.71 L152.18,194.66 L153.72,194.4 L155.27,194.09 L156.82,193.59 L158.37,193.33 L159.91,193.27 L161.46,193.63 L163.01,193.75 L164.56,193.93 L166.1,193.86 L167.65,194.23 L169.2,194.6 L170.74,194.81 L172.29,194.84 L173.84,195.11 L175.39,195.72 L176.93,196.21 L178.48,196.55 L180.03,196.8 L181.58,197.33 L183.12,197.97 L184.67,198.47 L186.22,198.99 L187.77,199.38 L189.31,199.83 L190.86,200.21 L192.41,201.1 L193.95,201.84 L195.5,202.35 L197.05,202.53 L198.6,202.88 L200.14,203.16 L201.69,203.44 L203.24,203.79 L204.79,204.53 L206.33,204.9 L207.88,205.23 L209.43,205.45 L210.98,206.14 L212.52,206.64 L214.07,207.09 L215.62,207.47 L217.16,207.89 L218.71,208.49 L220.26,208.86 L221.81,209.61 L223.35,210.31 L224.9,210.89 L226.45,211.17 L228,211.72 L229.54,212.53 L231.09,212.95 L232.64,213.51 L234.19,213.91 L235.73,214.44 L237.28,214.68 L238.83,215.06 L240.37,215.61 L241.92,216.31 L243.47,216.95 L245.02,217.5 L246.56,217.87 L248.11,218.28 L249.66,218.64 L251.21,219.27 L252.75,219.73 L254.3,220.22 L255.85,220.61 L257.4,221.15 L258.94,221.5 L260.49,221.93 L262.04,222.51 L263.58,222.98 L265.13,223.23 L266.68,223.47 L268.23,223.67 L269.77,223.87 L271.32,224.26 L272.87,224.83 L274.42,225.06 L275.96,225.21 L277.51,225.33 L279.06,225.48 L280.61,225.79 L282.15,226.21 L283.7,226.48 L285.25,226.66 L286.79,226.99 L288.34,227.2 L289.89,227.29 L291.44,227.63 L292.98,228.07 L294.53,228.35 L296.08,228.41 L297.63,228.62 L299.17,228.64 L300.72,228.85 L302.27,229.18 L303.82,229.52 L305.36,229.82 L306.91,230.1 L308.46,230.16 L310,230.12 L311.55,230.34 L313.1,230.4 L314.65,230.19 L316.19,230.22 L317.74,230.5 L319.29,230.79 L320.84,230.92 L322.38,231.07 L323.93,230.7 L325.48,230.62 L327.03,230.85 L328.57,231.44 L330.12,231.62 L331.67,231.9 L333.21,232.21 L334.76,232.03 L336.31,232 L337.86,232.22 L339.4,232.35 L340.95,231.85 L342.5,231.98 L344.05,232.13 L345.59,232.39 L347.14,232.12 L348.69,232.25 L350.24,232.38 L351.78,232.64 L353.33,232.65 L354.88,232.8 L356.42,232.7 L357.97,232.75 L359.52,232.62 L361.07,233.02 L362.61,233.4 L364.16,233.88 L365.71,233.83 L367.26,233.41 L368.8,232.95 L370.35,232.9 L371.9,233.18 L373.45,233.72 L374.99,233.83 L376.54,233.71 L378.09,233.88 L379.63,233.83 L381.18,233.55 L382.73,232.88 L384.28,233.2 L385.82,233.58" fill="none" stroke="#111" stroke-width="1.0" stroke-dasharray="8,2.5,1,2.5" stroke-linecap="butt"/>
<path d="M51.6,232.18 L53.15,232.19 L54.69,232.18 L56.24,232.15 L57.79,232.06 L59.34,231.96 L60.88,231.83 L62.43,231.75 L63.98,231.69 L65.53,231.6 L67.07,231.44 L68.62,231.25 L70.17,231.07 L71.72,230.91 L73.26,230.74 L74.81,230.59 L76.36,230.38 L77.9,230.15 L79.45,229.88 L81,229.64 L82.55,229.45 L84.09,229.23 L85.64,228.96 L87.19,228.66 L88.74,228.4 L90.28,228.03 L91.83,227.65 L93.38,227.37 L94.93,227.2 L96.47,226.85 L98.02,226.58 L99.57,226.27 L101.11,225.93 L102.66,225.47 L104.21,225.1 L105.76,224.79 L107.3,224.41 L108.85,224.03 L110.4,223.6 L111.95,223.21 L113.49,222.83 L115.04,222.41 L116.59,222.05 L118.14,221.74 L119.68,221.47 L121.23,221.14 L122.78,220.89 L124.32,220.7 L125.87,220.48 L127.42,220.12 L128.97,219.78 L130.51,219.52 L132.06,219.16 L133.61,218.8 L135.16,218.63 L136.7,218.68 L138.25,218.54 L139.8,218.41 L141.35,218.23 L142.89,218.14 L144.44,217.95 L145.99,217.97 L147.53,217.91 L149.08,217.99 L150.63,217.95 L152.18,217.88 L153.72,217.71 L155.27,217.83 L156.82,217.93 L158.37,217.94 L159.91,217.91 L161.46,218.05 L163.01,218.17 L164.56,218.26 L166.1,218.26 L167.65,218.3 L169.2,218.33 L170.74,218.46 L172.29,218.7 L173.84,218.95 L175.39,219.04 L176.93,219.19 L178.48,219.42 L180.03,219.73 L181.58,219.93 L183.12,220.13 L184.67,220.22 L186.22,220.31 L187.77,220.48 L189.31,220.66 L190.86,220.94 L192.41,221.14 L193.95,221.3 L195.5,221.41 L197.05,221.63 L198.6,221.86 L200.14,221.99 L201.69,222.17 L203.24,222.41 L204.79,222.67 L206.33,222.82 L207.88,222.96 L209.43,223.08 L210.98,223.24 L212.52,223.46 L214.07,223.63 L215.62,223.86 L217.16,224.11 L218.71,224.34 L220.26,224.41 L221.81,224.53 L223.35,224.8 L224.9,225.08 L226.45,225.37 L228,225.58 L229.54,225.84 L231.09,226.1 L232.64,226.28 L234.19,226.39 L235.73,226.56 L237.28,226.76 L238.83,226.97 L240.37,227.18 L241.92,227.49 L243.47,227.64 L245.02,227.73 L246.56,227.84 L248.11,228.09 L249.66,228.34 L251.21,228.51 L252.75,228.66 L254.3,228.79 L255.85,228.97 L257.4,229.18 L258.94,229.42 L260.49,229.56 L262.04,229.69 L263.58,229.78 L265.13,229.87 L266.68,229.97 L268.23,230.1 L269.77,230.22 L271.32,230.27 L272.87,230.42 L274.42,230.55 L275.96,230.65 L277.51,230.63 L279.06,230.66 L280.61,230.77 L282.15,231.04 L283.7,231.19 L285.25,231.33 L286.79,231.37 L288.34,231.45 L289.89,231.41 L291.44,231.43 L292.98,231.52 L294.53,231.69 L296.08,231.71 L297.63,231.84 L299.17,231.97 L300.72,232.01 L302.27,231.98 L303.82,232.01 L305.36,232.09 L306.91,231.92 L308.46,231.89 L310,232.25 L311.55,232.64 L313.1,232.73 L314.65,232.48 L316.19,232.47 L317.74,232.33 L319.29,232.27 L320.84,232.56 L322.38,233.05 L323.93,233.52 L325.48,233.23 L327.03,233.03 L328.57,232.89 L330.12,233.43 L331.67,233.6 L333.21,233.5 L334.76,233.33 L336.31,233.4 L337.86,233.6 L339.4,233.3 L340.95,233.23 L342.5,233.52 L344.05,233.98 L345.59,233.94 L347.14,233.76 L348.69,233.75 L350.24,233.9 L351.78,233.99 L353.33,233.88 L354.88,233.92 L356.42,233.71 L357.97,233.37 L359.52,233.47 L361.07,234.02 L362.61,234.07 L364.16,233.56 L365.71,233.24 L367.26,233.67 L368.8,234.23 L370.35,234.55 L371.9,234.19 L373.45,234.15 L374.99,234.11 L376.54,234.07 L378.09,233.82 L379.63,234.07 L381.18,234.23 L382.73,234.26 L384.28,234.16 L385.82,234.2" fill="none" stroke="#111" stroke-width="1.0" stroke-dasharray="12,3" stroke-linecap="butt"/>
<path d="M51.6,232.16 L53.15,232.13 L54.69,232.12 L56.24,232.05 L57.79,231.97 L59.34,231.92 L60.88,231.9 L62.43,231.83 L63.98,231.73 L65.53,231.62 L67.07,231.48 L68.62,231.34 L70.17,231.22 L71.72,231.04 L73.26,230.84 L74.81,230.69 L76.36,230.48 L77.9,230.27 L79.45,230.05 L81,229.82 L82.55,229.52 L84.09,229.35 L85.64,229.17 L87.19,228.92 L88.74,228.6 L90.28,228.29 L91.83,227.98 L93.38,227.69 L94.93,227.42 L96.47,227.1 L98.02,226.75 L99.57,226.51 L101.11,226.18 L102.66,225.86 L104.21,225.45 L105.76,225.25 L107.3,224.93 L108.85,224.64 L110.4,224.17 L111.95,223.71 L113.49,223.3 L115.04,223.02 L116.59,222.7 L118.14,222.4 L119.68,222.12 L121.23,221.87 L122.78,221.5 L124.32,221.17 L125.87,220.94 L127.42,220.74 L128.97,220.46 L130.51,220.1 L132.06,219.93 L133.61,219.77 L135.16,219.54 L136.7,219.35 L138.25,219.3 L139.8,219.27 L141.35,219.16 L142.89,219.06 L144.44,219.03 L145.99,218.99 L147.53,218.87 L149.08,218.77 L150.63,218.75 L152.18,218.8 L153.72,218.76 L155.27,218.71 L156.82,218.67 L158.37,218.6 L159.91,218.72 L161.46,218.9 L163.01,219.13 L164.56,219.15 L166.1,219.16 L167.65,219.19 L169.2,219.37 L170.74,219.57 L172.29,219.75 L173.84,219.84 L175.39,219.83 L176.93,219.97 L178.48,220.15 L180.03,220.38 L181.58,220.61 L183.12,220.86 L184.67,220.97 L186.22,221.05 L187.77,221.27 L189.31,221.4 L190.86,221.57 L192.41,221.72 L193.95,221.92 L195.5,222.11 L197.05,222.42 L198.6,222.71 L200.14,222.85 L201.69,222.89 L203.24,223.06 L204.79,223.28 L206.33,223.39 L207.88,223.54 L209.43,223.72 L210.98,223.93 L212.52,224.01 L214.07,224.28 L215.62,224.51 L217.16,224.77 L218.71,224.87 L220.26,225.08 L221.81,225.23 L223.35,225.49 L224.9,225.66 L226.45,225.92 L228,226.09 L229.54,226.25 L231.09,226.38 L232.64,226.52 L234.19,226.69 L235.73,226.86 L237.28,227.08 L238.83,227.2 L240.37,227.42 L241.92,227.66 L243.47,227.91 L245.02,228.04 L246.56,228.19 L248.11,228.34 L249.66,228.51 L251.21,228.72 L252.75,228.93 L254.3,229.09 L255.85,229.31 L257.4,229.45 L258.94,229.6 L260.49,229.69 L262.04,229.86 L263.58,229.96 L265.13,230.12 L266.68,230.26 L268.23,230.3 L269.77,230.32 L271.32,230.36 L272.87,230.53 L274.42,230.7 L275.96,230.8 L277.51,230.78 L279.06,230.85 L280.61,231.07 L282.15,231.37 L283.7,231.41 L285.25,231.47 L286.79,231.47 L288.34,231.54 L289.89,231.27 L291.44,231.3 L292.98,231.52 L294.53,231.82 L296.08,231.85 L297.63,231.79 L299.17,231.81 L300.72,232.01 L302.27,232.46 L303.82,232.61 L305.36,232.6 L306.91,232.32 L308.46,232.48 L310,232.54 L311.55,232.79 L313.1,232.83 L314.65,232.71 L316.19,232.55 L317.74,232.57 L319.29,232.75 L320.84,232.88 L322.38,233.02 L323.93,233.25 L325.48,232.91 L327.03,232.72 L328.57,232.65 L330.12,232.8 L331.67,232.89 L333.21,233.12 L334.76,233.59 L336.31,233.6 L337.86,233.46 L339.4,233.32 L340.95,233.28 L342.5,233.55 L344.05,233.61 L345.59,233.92 L347.14,233.95 L348.69,234.06 L350.24,233.63 L351.78,233.59 L353.33,233.86 L354.88,234.26 L356.42,233.81 L357.97,233.44 L359.52,233.29 L361.07,233.31 L362.61,233.29 L364.16,233.79 L365.71,234.31 L367.26,234.47 L368.8,233.9 L370.35,233.9 L371.9,233.86 L373.45,234.18 L374.99,234.09 L376.54,234.15 L378.09,234.08 L379.63,234.15 L381.18,234.38 L382.73,234.5 L384.28,234.54 L385.82,234.39" fill="none" stroke="#111" stroke-width="1.0" stroke-dasharray="9,2,1,2,1,2" stroke-linecap="butt"/>
</g>
<rect x="51" y="2" width="333" height="1" fill="#222"/>
<rect x="51" y="2" width="1" height="234" fill="#222"/>
<rect x="51" y="235" width="333" height="1" fill="#222"/>
<rect x="383" y="2" width="2" height="234" fill="#8c8c8c"/>
<line x1="51.6" y1="235" x2="51.6" y2="231.2" stroke="#222" stroke-width="1"/>
<text x="53" y="254" font-size="15" text-anchor="middle" font-weight="normal" font-family='"Liberation Sans", sans-serif' >360</text>
<line x1="98.02" y1="235" x2="98.02" y2="231.2" stroke="#222" stroke-width="1"/>
<text x="99.42" y="254" font-size="15" text-anchor="middle" font-weight="normal" font-family='"Liberation Sans", sans-serif' >390</text>
<line x1="144.44" y1="235" x2="144.44" y2="231.2" stroke="#222" stroke-width="1"/>
<text x="145.84" y="254" font-size="15" text-anchor="middle" font-weight="normal" font-family='"Liberation Sans", sans-serif' >420</text>
<line x1="190.86" y1="235" x2="190.86" y2="231.2" stroke="#222" stroke-width="1"/>
<text x="192.26" y="254" font-size="15" text-anchor="middle" font-weight="normal" font-family='"Liberation Sans", sans-serif' >450</text>
<line x1="237.28" y1="235" x2="237.28" y2="231.2" stroke="#222" stroke-width="1"/>
<text x="238.68" y="254" font-size="15" text-anchor="middle" font-weight="normal" font-family='"Liberation Sans", sans-serif' >480</text>
<line x1="283.7" y1="235" x2="283.7" y2="231.2" stroke="#222" stroke-width="1"/>
<text x="285.1" y="254" font-size="15" text-anchor="middle" font-weight="normal" font-family='"Liberation Sans", sans-serif' >510</text>
<line x1="330.12" y1="235" x2="330.12" y2="231.2" stroke="#222" stroke-width="1"/>
<text x="331.52" y="254" font-size="15" text-anchor="middle" font-weight="normal" font-family='"Liberation Sans", sans-serif' >540</text>
<line x1="376.54" y1="235" x2="376.54" y2="231.2" stroke="#222" stroke-width="1"/>
<text x="377.94" y="254" font-size="15" text-anchor="middle" font-weight="normal" font-family='"Liberation Sans", sans-serif' >570</text>
<line x1="51.5" y1="234.9" x2="55.3" y2="234.9" stroke="#222" stroke-width="1"/>
<text x="48.5" y="239.4" font-size="15" text-anchor="end" font-weight="normal" font-family='"Liberation Sans", sans-serif' >0</text>
<line x1="51.5" y1="190.6" x2="55.3" y2="190.6" stroke="#222" stroke-width="1"/>
<text x="48.5" y="195.1" font-size="15" text-anchor="end" font-weight="normal" font-family='"Liberation Sans", sans-serif' >100</text>
<line x1="51.5" y1="146.3" x2="55.3" y2="146.3" stroke="#222" stroke-width="1"/>
<text x="48.5" y="150.8" font-size="15" text-anchor="end" font-weight="normal" font-family='"Liberation Sans", sans-serif' >200</text>
<line x1="51.5" y1="102" x2="55.3" y2="102" stroke="#222" stroke-width="1"/>
<text x="48.5" y="106.5" font-size="15" text-anchor="end" font-weight="normal" font-family='"Liberation Sans", sans-serif' >300</text>
<line x1="51.5" y1="57.7" x2="55.3" y2="57.7" stroke="#222" stroke-width="1"/>
<text x="48.5" y="62.2" font-size="15" text-anchor="end" font-weight="normal" font-family='"Liberation Sans", sans-serif' >400</text>
<line x1="51.5" y1="13.4" x2="55.3" y2="13.4" stroke="#222" stroke-width="1"/>
<text x="48.5" y="17.9" font-size="15" text-anchor="end" font-weight="normal" font-family='"Liberation Sans", sans-serif' >500</text>
<text x="217.7" y="280" font-size="16.6" text-anchor="middle" font-weight="normal" font-family='"Liberation Sans", sans-serif' >Wavelength / nm</text>
<text x="0" y="0" font-size="16.5" text-anchor="middle" font-family='"Liberation Sans", sans-serif' transform="translate(12,118.7) rotate(-90)">Fluorescence Intensity</text>
<text x="309.8" y="20.5" font-size="14.8" text-anchor="middle" font-weight="normal" font-family='"Liberation Sans", sans-serif' >pH = 3.0</text>
<text x="314.4" y="122.7" font-size="14.8" text-anchor="middle" font-weight="normal" font-family='"Liberation Sans", sans-serif' >pH 11.0</text>
<line x1="307.4" y1="25.3" x2="307.4" y2="107" stroke="#333" stroke-width="1"/>
<path d="M302.9,91.4 L307.4,107.6 L311.9,91.4" fill="none" stroke="#222" stroke-width="1" />
<path d="M476.6,19.4 L477.39,19.32 L478.18,19.23 L478.97,19.15 L479.76,19.06 L480.55,18.98 L481.34,18.9 L482.13,18.81 L482.91,18.73 L483.7,18.65 L484.49,18.56 L485.28,18.48 L486.07,18.4 L486.86,18.32 L487.65,18.23 L488.44,18.15 L489.23,18.07 L490.02,17.99 L490.81,17.91 L491.6,17.83 L492.39,17.74 L493.18,17.66 L493.97,17.58 L494.76,17.5 L495.54,17.42 L496.33,17.35 L497.12,17.27 L497.91,17.19 L498.7,17.11 L499.49,17.03 L500.28,16.96 L501.07,16.88 L501.86,16.8 L502.65,16.73 L503.44,16.65 L504.23,16.58 L505.02,16.5 L505.81,16.43 L506.6,16.36 L507.39,16.28 L508.17,16.21 L508.96,16.14 L509.75,16.07 L510.54,16 L511.33,15.93 L512.12,15.86 L512.91,15.8 L513.7,15.73 L514.49,15.66 L515.28,15.6 L516.07,15.53 L516.86,15.47 L517.65,15.41 L518.44,15.35 L519.23,15.29 L520.02,15.24 L520.8,15.19 L521.59,15.15 L522.38,15.12 L523.17,15.1 L523.96,15.08 L524.75,15.08 L525.54,15.09 L526.33,15.11 L527.12,15.14 L527.91,15.18 L528.7,15.24 L529.49,15.32 L530.28,15.41 L531.07,15.52 L531.86,15.65 L532.65,15.8 L533.43,15.96 L534.22,16.15 L535.01,16.36 L535.8,16.6 L536.59,16.85 L537.38,17.14 L538.17,17.44 L538.96,17.78 L539.75,18.14 L540.54,18.53 L541.33,18.95 L542.12,19.41 L542.91,19.89 L543.7,20.4 L544.49,20.95 L545.28,21.53 L546.06,22.15 L546.85,22.8 L547.64,23.49 L548.43,24.22 L549.22,24.98 L550.01,25.79 L550.8,26.63 L551.59,27.52 L552.38,28.45 L553.17,29.42 L553.96,30.44 L554.75,31.5 L555.54,32.61 L556.33,33.77 L557.12,34.96 L557.91,36.19 L558.69,37.46 L559.48,38.76 L560.27,40.08 L561.06,41.42 L561.85,42.78 L562.64,44.16 L563.43,45.54 L564.22,46.93 L565.01,48.32 L565.8,49.71 L566.59,51.09 L567.38,52.46 L568.17,53.82 L568.96,55.15 L569.75,56.47 L570.54,57.75 L571.32,59.01 L572.11,60.23 L572.9,61.42 L573.69,62.55 L574.48,63.65 L575.27,64.69 L576.06,65.68 L576.85,66.62 L577.64,67.51 L578.43,68.36 L579.22,69.17 L580.01,69.94 L580.8,70.68 L581.59,71.38 L582.38,72.06 L583.17,72.71 L583.95,73.34 L584.74,73.95 L585.53,74.55 L586.32,75.13 L587.11,75.71 L587.9,76.27 L588.69,76.84 L589.48,77.4 L590.27,77.97 L591.06,78.54 L591.85,79.12 L592.64,79.72 L593.43,80.32 L594.22,80.95 L595.01,81.6 L595.8,82.27 L596.58,82.96 L597.37,83.67 L598.16,84.4 L598.95,85.15 L599.74,85.91 L600.53,86.69 L601.32,87.48 L602.11,88.28 L602.9,89.09 L603.69,89.91 L604.48,90.73 L605.27,91.56 L606.06,92.39 L606.85,93.23 L607.64,94.06 L608.43,94.9 L609.21,95.73 L610,96.56 L610.79,97.38 L611.58,98.2 L612.37,99.01 L613.16,99.81 L613.95,100.6 L614.74,101.38 L615.53,102.14 L616.32,102.89 L617.11,103.63 L617.9,104.37 L618.69,105.09 L619.48,105.81 L620.27,106.51 L621.06,107.22 L621.84,107.92 L622.63,108.61 L623.42,109.31 L624.21,110 L625,110.69 L625.79,111.39 L626.58,112.08 L627.37,112.78 L628.16,113.48 L628.95,114.19 L629.74,114.9 L630.53,115.62 L631.32,116.35 L632.11,117.09 L632.9,117.84 L633.69,118.6 L634.47,119.38 L635.26,120.16 L636.05,120.96 L636.84,121.76 L637.63,122.57 L638.42,123.39 L639.21,124.21 L640,125.03 L640.79,125.85 L641.58,126.67 L642.37,127.48 L643.16,128.29 L643.95,129.09 L644.74,129.88 L645.53,130.67 L646.32,131.43 L647.1,132.19 L647.89,132.92 L648.68,133.64 L649.47,134.34 L650.26,135.02 L651.05,135.67 L651.84,136.3 L652.63,136.9 L653.42,137.47 L654.21,138.01 L655,138.52 L655.79,139 L656.58,139.46 L657.37,139.9 L658.16,140.31 L658.95,140.71 L659.73,141.1 L660.52,141.48 L661.31,141.84 L662.1,142.2 L662.89,142.56 L663.68,142.91 L664.47,143.27 L665.26,143.63 L666.05,144.01 L666.84,144.39 L667.63,144.78 L668.42,145.19 L669.21,145.61 L670,146.06 L670.79,146.53 L671.58,147.03 L672.36,147.55 L673.15,148.11 L673.94,148.7 L674.73,149.32 L675.52,149.98 L676.31,150.66 L677.1,151.37 L677.89,152.1 L678.68,152.85 L679.47,153.62 L680.26,154.41 L681.05,155.21 L681.84,156.02 L682.63,156.84 L683.42,157.66 L684.21,158.49 L684.99,159.31 L685.78,160.14 L686.57,160.96 L687.36,161.77 L688.15,162.57 L688.94,163.36 L689.73,164.13 L690.52,164.89 L691.31,165.63 L692.1,166.34 L692.89,167.03 L693.68,167.69 L694.47,168.32 L695.26,168.93 L696.05,169.51 L696.84,170.07 L697.62,170.61 L698.41,171.12 L699.2,171.62 L699.99,172.1 L700.78,172.56 L701.57,173.01 L702.36,173.44 L703.15,173.87 L703.94,174.28 L704.73,174.68 L705.52,175.08 L706.31,175.47 L707.1,175.85 L707.89,176.23 L708.68,176.61 L709.47,176.99 L710.25,177.37 L711.04,177.75 L711.83,178.14 L712.62,178.53 L713.41,178.92 L714.2,179.33 L714.99,179.74 L715.78,180.15 L716.57,180.57 L717.36,181 L718.15,181.43 L718.94,181.86 L719.73,182.3 L720.52,182.74 L721.31,183.19 L722.1,183.63 L722.88,184.08 L723.67,184.53 L724.46,184.98 L725.25,185.43 L726.04,185.88 L726.83,186.34 L727.62,186.79 L728.41,187.24 L729.2,187.68 L729.99,188.13 L730.78,188.57 L731.57,189.01 L732.36,189.45 L733.15,189.89 L733.94,190.32 L734.73,190.74 L735.51,191.16 L736.3,191.58 L737.09,191.99 L737.88,192.39 L738.67,192.79 L739.46,193.18 L740.25,193.56 L741.04,193.93 L741.83,194.3 L742.62,194.65 L743.41,195 L744.2,195.34 L744.99,195.67 L745.78,195.98 L746.57,196.29 L747.36,196.58 L748.14,196.87 L748.93,197.14 L749.72,197.4 L750.51,197.64 L751.3,197.87 L752.09,198.09 L752.88,198.3 L753.67,198.48 L754.46,198.66 L755.25,198.82 L756.04,198.97 L756.83,199.11 L757.62,199.23 L758.41,199.34 L759.2,199.44 L759.99,199.52 L760.77,199.6 L761.56,199.66 L762.35,199.71 L763.14,199.76 L763.93,199.79 L764.72,199.81 L765.51,199.82 L766.3,199.82 L767.09,199.81 L767.88,199.8 L768.67,199.77 L769.46,199.74 L770.25,199.7 L771.04,199.65 L771.83,199.59 L772.62,199.53 L773.4,199.46 L774.19,199.38 L774.98,199.3 L775.77,199.21 L776.56,199.11 L777.35,199.01 L778.14,198.9 L778.93,198.79 L779.72,198.67 L780.51,198.55 L781.3,198.43 L782.09,198.3 L782.88,198.17 L783.67,198.03 L784.46,197.9 L785.25,197.76 L786.03,197.61 L786.82,197.47 L787.61,197.32 L788.4,197.17 L789.19,197.03 L789.98,196.88 L790.77,196.72 L791.56,196.57" fill="none" stroke="#111" stroke-width="1.1" />
<path d="M476.6,19.4 L477.39,19.28 L478.18,19.15 L478.97,19.03 L479.76,18.91 L480.55,18.78 L481.34,18.66 L482.13,18.54 L482.91,18.42 L483.7,18.3 L484.49,18.18 L485.28,18.06 L486.07,17.95 L486.86,17.83 L487.65,17.72 L488.44,17.61 L489.23,17.5 L490.02,17.39 L490.81,17.28 L491.6,17.18 L492.39,17.07 L493.18,16.97 L493.97,16.87 L494.76,16.78 L495.54,16.69 L496.33,16.6 L497.12,16.51 L497.91,16.42 L498.7,16.34 L499.49,16.26 L500.28,16.19 L501.07,16.12 L501.86,16.05 L502.65,15.98 L503.44,15.92 L504.23,15.87 L505.02,15.81 L505.81,15.76 L506.6,15.72 L507.39,15.68 L508.17,15.64 L508.96,15.61 L509.75,15.58 L510.54,15.56 L511.33,15.54 L512.12,15.53 L512.91,15.52 L513.7,15.52 L514.49,15.52 L515.28,15.53 L516.07,15.54 L516.86,15.56 L517.65,15.59 L518.44,15.61 L519.23,15.65 L520.02,15.69 L520.8,15.73 L521.59,15.78 L522.38,15.83 L523.17,15.89 L523.96,15.94 L524.75,16.01 L525.54,16.07 L526.33,16.14 L527.12,16.21 L527.91,16.28 L528.7,16.36 L529.49,16.44 L530.28,16.52 L531.07,16.6 L531.86,16.68 L532.65,16.76 L533.43,16.85 L534.22,16.93 L535.01,17.01 L535.8,17.1 L536.59,17.18 L537.38,17.27 L538.17,17.35 L538.96,17.44 L539.75,17.52 L540.54,17.6 L541.33,17.68 L542.12,17.76 L542.91,17.84 L543.7,17.91 L544.49,17.98 L545.28,18.05 L546.06,18.12 L546.85,18.19 L547.64,18.25 L548.43,18.3 L549.22,18.36 L550.01,18.41 L550.8,18.45 L551.59,18.5 L552.38,18.53 L553.17,18.57 L553.96,18.59 L554.75,18.61 L555.54,18.63 L556.33,18.64 L557.12,18.65 L557.91,18.66 L558.69,18.66 L559.48,18.66 L560.27,18.66 L561.06,18.67 L561.85,18.68 L562.64,18.69 L563.43,18.71 L564.22,18.73 L565.01,18.76 L565.8,18.81 L566.59,18.86 L567.38,18.92 L568.17,19 L568.96,19.09 L569.75,19.19 L570.54,19.31 L571.32,19.45 L572.11,19.61 L572.9,19.78 L573.69,19.98 L574.48,20.2 L575.27,20.44 L576.06,20.71 L576.85,21 L577.64,21.3 L578.43,21.62 L579.22,21.96 L580.01,22.3 L580.8,22.66 L581.59,23.02 L582.38,23.38 L583.17,23.74 L583.95,24.1 L584.74,24.46 L585.53,24.81 L586.32,25.15 L587.11,25.48 L587.9,25.79 L588.69,26.08 L589.48,26.36 L590.27,26.61 L591.06,26.84 L591.85,27.04 L592.64,27.22 L593.43,27.36 L594.22,27.46 L595.01,27.53 L595.8,27.56 L596.58,27.55 L597.37,27.52 L598.16,27.46 L598.95,27.39 L599.74,27.29 L600.53,27.19 L601.32,27.07 L602.11,26.95 L602.9,26.84 L603.69,26.73 L604.48,26.62 L605.27,26.54 L606.06,26.47 L606.85,26.42 L607.64,26.39 L608.43,26.4 L609.21,26.45 L610,26.53 L610.79,26.65 L611.58,26.83 L612.37,27.05 L613.16,27.33 L613.95,27.67 L614.74,28.08 L615.53,28.55 L616.32,29.08 L617.11,29.67 L617.9,30.31 L618.69,31.01 L619.48,31.74 L620.27,32.52 L621.06,33.34 L621.84,34.2 L622.63,35.08 L623.42,35.99 L624.21,36.92 L625,37.88 L625.79,38.84 L626.58,39.82 L627.37,40.81 L628.16,41.8 L628.95,42.78 L629.74,43.77 L630.53,44.74 L631.32,45.71 L632.11,46.65 L632.9,47.58 L633.69,48.49 L634.47,49.36 L635.26,50.21 L636.05,51.04 L636.84,51.86 L637.63,52.67 L638.42,53.47 L639.21,54.28 L640,55.1 L640.79,55.94 L641.58,56.8 L642.37,57.68 L643.16,58.6 L643.95,59.56 L644.74,60.57 L645.53,61.63 L646.32,62.74 L647.1,63.92 L647.89,65.18 L648.68,66.5 L649.47,67.92 L650.26,69.42 L651.05,71.01 L651.84,72.71 L652.63,74.51 L653.42,76.42 L654.21,78.46 L655,80.61 L655.79,82.86 L656.58,85.21 L657.37,87.64 L658.16,90.14 L658.95,92.7 L659.73,95.31 L660.52,97.96 L661.31,100.64 L662.1,103.33 L662.89,106.02 L663.68,108.71 L664.47,111.39 L665.26,114.03 L666.05,116.64 L666.84,119.2 L667.63,121.69 L668.42,124.11 L669.21,126.45 L670,128.7 L670.79,130.84 L671.58,132.86 L672.36,134.75 L673.15,136.51 L673.94,138.12 L674.73,139.58 L675.52,140.9 L676.31,142.09 L677.1,143.15 L677.89,144.11 L678.68,144.96 L679.47,145.71 L680.26,146.38 L681.05,146.97 L681.84,147.49 L682.63,147.94 L683.42,148.35 L684.21,148.72 L684.99,149.05 L685.78,149.35 L686.57,149.64 L687.36,149.92 L688.15,150.2 L688.94,150.5 L689.73,150.81 L690.52,151.14 L691.31,151.52 L692.1,151.94 L692.89,152.41 L693.68,152.94 L694.47,153.54 L695.26,154.2 L696.05,154.91 L696.84,155.67 L697.62,156.48 L698.41,157.34 L699.2,158.23 L699.99,159.17 L700.78,160.13 L701.57,161.13 L702.36,162.15 L703.15,163.19 L703.94,164.25 L704.73,165.32 L705.52,166.41 L706.31,167.5 L707.1,168.6 L707.89,169.7 L708.68,170.79 L709.47,171.87 L710.25,172.95 L711.04,174 L711.83,175.04 L712.62,176.06 L713.41,177.05 L714.2,178.01 L714.99,178.95 L715.78,179.86 L716.57,180.75 L717.36,181.61 L718.15,182.44 L718.94,183.26 L719.73,184.04 L720.52,184.81 L721.31,185.55 L722.1,186.27 L722.88,186.97 L723.67,187.65 L724.46,188.3 L725.25,188.94 L726.04,189.55 L726.83,190.15 L727.62,190.73 L728.41,191.28 L729.2,191.82 L729.99,192.34 L730.78,192.85 L731.57,193.34 L732.36,193.81 L733.15,194.26 L733.94,194.7 L734.73,195.13 L735.51,195.54 L736.3,195.93 L737.09,196.31 L737.88,196.68 L738.67,197.04 L739.46,197.38 L740.25,197.71 L741.04,198.03 L741.83,198.34 L742.62,198.64 L743.41,198.93 L744.2,199.21 L744.99,199.48 L745.78,199.74 L746.57,199.99 L747.36,200.24 L748.14,200.47 L748.93,200.7 L749.72,200.93 L750.51,201.15 L751.3,201.36 L752.09,201.57 L752.88,201.77 L753.67,201.97 L754.46,202.16 L755.25,202.35 L756.04,202.54 L756.83,202.72 L757.62,202.89 L758.41,203.07 L759.2,203.23 L759.99,203.4 L760.77,203.56 L761.56,203.72 L762.35,203.87 L763.14,204.02 L763.93,204.17 L764.72,204.32 L765.51,204.46 L766.3,204.6 L767.09,204.73 L767.88,204.86 L768.67,204.99 L769.46,205.12 L770.25,205.24 L771.04,205.37 L771.83,205.49 L772.62,205.6 L773.4,205.72 L774.19,205.83 L774.98,205.94 L775.77,206.05 L776.56,206.16 L777.35,206.26 L778.14,206.37 L778.93,206.47 L779.72,206.57 L780.51,206.67 L781.3,206.77 L782.09,206.86 L782.88,206.96 L783.67,207.05 L784.46,207.15 L785.25,207.24 L786.03,207.33 L786.82,207.42 L787.61,207.51 L788.4,207.6 L789.19,207.69 L789.98,207.78 L790.77,207.87 L791.56,207.96" fill="none" stroke="#111" stroke-width="1.1" />
<path d="M476.6,19.4 L477.39,19.34 L478.18,19.27 L478.97,19.21 L479.76,19.15 L480.55,19.08 L481.34,19.02 L482.13,18.96 L482.91,18.9 L483.7,18.84 L484.49,18.78 L485.28,18.72 L486.07,18.66 L486.86,18.6 L487.65,18.54 L488.44,18.48 L489.23,18.43 L490.02,18.37 L490.81,18.32 L491.6,18.26 L492.39,18.21 L493.18,18.16 L493.97,18.11 L494.76,18.06 L495.54,18.02 L496.33,17.97 L497.12,17.93 L497.91,17.89 L498.7,17.84 L499.49,17.81 L500.28,17.77 L501.07,17.73 L501.86,17.7 L502.65,17.67 L503.44,17.64 L504.23,17.61 L505.02,17.58 L505.81,17.56 L506.6,17.54 L507.39,17.52 L508.17,17.5 L508.96,17.49 L509.75,17.47 L510.54,17.46 L511.33,17.46 L512.12,17.45 L512.91,17.45 L513.7,17.45 L514.49,17.46 L515.28,17.46 L516.07,17.47 L516.86,17.48 L517.65,17.5 L518.44,17.52 L519.23,17.54 L520.02,17.56 L520.8,17.59 L521.59,17.62 L522.38,17.66 L523.17,17.69 L523.96,17.73 L524.75,17.78 L525.54,17.82 L526.33,17.87 L527.12,17.92 L527.91,17.98 L528.7,18.04 L529.49,18.1 L530.28,18.17 L531.07,18.24 L531.86,18.31 L532.65,18.39 L533.43,18.47 L534.22,18.55 L535.01,18.63 L535.8,18.72 L536.59,18.82 L537.38,18.91 L538.17,19.01 L538.96,19.12 L539.75,19.22 L540.54,19.34 L541.33,19.45 L542.12,19.57 L542.91,19.69 L543.7,19.82 L544.49,19.94 L545.28,20.08 L546.06,20.21 L546.85,20.35 L547.64,20.5 L548.43,20.65 L549.22,20.8 L550.01,20.95 L550.8,21.11 L551.59,21.27 L552.38,21.44 L553.17,21.61 L553.96,21.79 L554.75,21.97 L555.54,22.15 L556.33,22.33 L557.12,22.53 L557.91,22.72 L558.69,22.92 L559.48,23.12 L560.27,23.33 L561.06,23.54 L561.85,23.75 L562.64,23.97 L563.43,24.19 L564.22,24.42 L565.01,24.65 L565.8,24.88 L566.59,25.12 L567.38,25.36 L568.17,25.6 L568.96,25.85 L569.75,26.11 L570.54,26.36 L571.32,26.62 L572.11,26.89 L572.9,27.15 L573.69,27.43 L574.48,27.7 L575.27,27.98 L576.06,28.26 L576.85,28.55 L577.64,28.83 L578.43,29.12 L579.22,29.4 L580.01,29.69 L580.8,29.97 L581.59,30.24 L582.38,30.52 L583.17,30.78 L583.95,31.04 L584.74,31.29 L585.53,31.53 L586.32,31.76 L587.11,31.98 L587.9,32.19 L588.69,32.38 L589.48,32.56 L590.27,32.72 L591.06,32.87 L591.85,32.99 L592.64,33.1 L593.43,33.19 L594.22,33.26 L595.01,33.31 L595.8,33.34 L596.58,33.34 L597.37,33.34 L598.16,33.31 L598.95,33.28 L599.74,33.24 L600.53,33.19 L601.32,33.15 L602.11,33.1 L602.9,33.05 L603.69,33.01 L604.48,32.98 L605.27,32.96 L606.06,32.96 L606.85,32.97 L607.64,33 L608.43,33.05 L609.21,33.13 L610,33.24 L610.79,33.37 L611.58,33.54 L612.37,33.75 L613.16,33.99 L613.95,34.27 L614.74,34.6 L615.53,34.98 L616.32,35.39 L617.11,35.85 L617.9,36.34 L618.69,36.86 L619.48,37.42 L620.27,38.01 L621.06,38.62 L621.84,39.26 L622.63,39.91 L623.42,40.59 L624.21,41.28 L625,41.99 L625.79,42.71 L626.58,43.44 L627.37,44.17 L628.16,44.91 L628.95,45.64 L629.74,46.38 L630.53,47.11 L631.32,47.83 L632.11,48.55 L632.9,49.25 L633.69,49.94 L634.47,50.61 L635.26,51.27 L636.05,51.91 L636.84,52.55 L637.63,53.19 L638.42,53.83 L639.21,54.47 L640,55.13 L640.79,55.81 L641.58,56.51 L642.37,57.23 L643.16,57.98 L643.95,58.77 L644.74,59.6 L645.53,60.48 L646.32,61.4 L647.1,62.38 L647.89,63.42 L648.68,64.52 L649.47,65.69 L650.26,66.93 L651.05,68.25 L651.84,69.65 L652.63,71.14 L653.42,72.72 L654.21,74.4 L655,76.17 L655.79,78.02 L656.58,79.96 L657.37,81.96 L658.16,84.02 L658.95,86.14 L659.73,88.3 L660.52,90.51 L661.31,92.73 L662.1,94.99 L662.89,97.25 L663.68,99.52 L664.47,101.78 L665.26,104.04 L666.05,106.27 L666.84,108.48 L667.63,110.65 L668.42,112.78 L669.21,114.85 L670,116.87 L670.79,118.81 L671.58,120.69 L672.36,122.47 L673.15,124.17 L673.94,125.76 L674.73,127.26 L675.52,128.66 L676.31,129.97 L677.1,131.19 L677.89,132.34 L678.68,133.41 L679.47,134.41 L680.26,135.35 L681.05,136.23 L681.84,137.05 L682.63,137.83 L683.42,138.56 L684.21,139.25 L684.99,139.91 L685.78,140.54 L686.57,141.15 L687.36,141.74 L688.15,142.32 L688.94,142.89 L689.73,143.46 L690.52,144.03 L691.31,144.61 L692.1,145.2 L692.89,145.81 L693.68,146.45 L694.47,147.1 L695.26,147.78 L696.05,148.48 L696.84,149.19 L697.62,149.93 L698.41,150.67 L699.2,151.43 L699.99,152.2 L700.78,152.98 L701.57,153.76 L702.36,154.55 L703.15,155.34 L703.94,156.13 L704.73,156.92 L705.52,157.71 L706.31,158.5 L707.1,159.27 L707.89,160.04 L708.68,160.8 L709.47,161.55 L710.25,162.28 L711.04,162.99 L711.83,163.69 L712.62,164.37 L713.41,165.03 L714.2,165.66 L714.99,166.27 L715.78,166.87 L716.57,167.44 L717.36,167.99 L718.15,168.53 L718.94,169.04 L719.73,169.54 L720.52,170.02 L721.31,170.48 L722.1,170.92 L722.88,171.35 L723.67,171.76 L724.46,172.16 L725.25,172.54 L726.04,172.91 L726.83,173.26 L727.62,173.6 L728.41,173.93 L729.2,174.25 L729.99,174.55 L730.78,174.85 L731.57,175.13 L732.36,175.4 L733.15,175.66 L733.94,175.92 L734.73,176.16 L735.51,176.4 L736.3,176.62 L737.09,176.85 L737.88,177.06 L738.67,177.27 L739.46,177.47 L740.25,177.67 L741.04,177.86 L741.83,178.05 L742.62,178.23 L743.41,178.41 L744.2,178.59 L744.99,178.77 L745.78,178.94 L746.57,179.12 L747.36,179.29 L748.14,179.46 L748.93,179.64 L749.72,179.81 L750.51,179.98 L751.3,180.16 L752.09,180.34 L752.88,180.52 L753.67,180.71 L754.46,180.89 L755.25,181.08 L756.04,181.28 L756.83,181.47 L757.62,181.67 L758.41,181.87 L759.2,182.07 L759.99,182.28 L760.77,182.48 L761.56,182.69 L762.35,182.91 L763.14,183.12 L763.93,183.33 L764.72,183.55 L765.51,183.77 L766.3,183.99 L767.09,184.22 L767.88,184.44 L768.67,184.67 L769.46,184.9 L770.25,185.13 L771.04,185.36 L771.83,185.6 L772.62,185.83 L773.4,186.07 L774.19,186.3 L774.98,186.54 L775.77,186.78 L776.56,187.02 L777.35,187.27 L778.14,187.51 L778.93,187.75 L779.72,188 L780.51,188.25 L781.3,188.49 L782.09,188.74 L782.88,188.99 L783.67,189.24 L784.46,189.49 L785.25,189.74 L786.03,189.99 L786.82,190.24 L787.61,190.49 L788.4,190.74 L789.19,190.99 L789.98,191.24 L790.77,191.5 L791.56,191.75" fill="none" stroke="#111" stroke-width="1.1" />
<circle cx="476.6" cy="19.4" r="3.2" fill="#000"/>
<circle cx="515.97" cy="17.47" r="3.2" fill="#000"/>
<circle cx="555.34" cy="22.1" r="3.2" fill="#000"/>
<circle cx="575.02" cy="27.89" r="3.2" fill="#000"/>
<circle cx="594.71" cy="33.3" r="3.2" fill="#000"/>
<circle cx="614.39" cy="34.45" r="3.2" fill="#000"/>
<circle cx="634.08" cy="50.28" r="3.2" fill="#000"/>
<circle cx="653.76" cy="73.44" r="3.2" fill="#000"/>
<circle cx="673.45" cy="124.78" r="3.2" fill="#000"/>
<circle cx="693.13" cy="146.01" r="3.2" fill="#000"/>
<circle cx="712.82" cy="164.54" r="3.2" fill="#000"/>
<circle cx="752.19" cy="180.36" r="3.2" fill="#000"/>
<circle cx="791.56" cy="191.75" r="3.2" fill="#000"/>
<circle cx="476.6" cy="19.4" r="2.75" fill="#fff" stroke="#000" stroke-width="1"/>
<circle cx="515.97" cy="15.54" r="2.75" fill="#fff" stroke="#000" stroke-width="1"/>
<circle cx="555.34" cy="18.63" r="2.75" fill="#fff" stroke="#000" stroke-width="1"/>
<circle cx="575.02" cy="20.37" r="2.75" fill="#fff" stroke="#000" stroke-width="1"/>
<circle cx="594.71" cy="27.51" r="2.75" fill="#fff" stroke="#000" stroke-width="1"/>
<circle cx="614.39" cy="27.89" r="2.75" fill="#fff" stroke="#000" stroke-width="1"/>
<circle cx="634.08" cy="48.93" r="2.75" fill="#fff" stroke="#000" stroke-width="1"/>
<circle cx="653.76" cy="77.3" r="2.75" fill="#fff" stroke="#000" stroke-width="1"/>
<circle cx="673.45" cy="137.13" r="2.75" fill="#fff" stroke="#000" stroke-width="1"/>
<circle cx="693.13" cy="152.57" r="2.75" fill="#fff" stroke="#000" stroke-width="1"/>
<circle cx="712.82" cy="176.31" r="2.75" fill="#fff" stroke="#000" stroke-width="1"/>
<circle cx="752.19" cy="201.59" r="2.75" fill="#fff" stroke="#000" stroke-width="1"/>
<circle cx="791.56" cy="207.96" r="2.75" fill="#fff" stroke="#000" stroke-width="1"/>
<path d="M473.2,16.9 L480,16.9 L476.6,22.4 Z" fill="#000"/>
<path d="M512.57,13.04 L519.37,13.04 L515.97,18.54 Z" fill="#000"/>
<path d="M551.94,29.83 L558.74,29.83 L555.34,35.33 Z" fill="#000"/>
<path d="M571.62,61.87 L578.42,61.87 L575.02,67.37 Z" fill="#000"/>
<path d="M591.31,78.85 L598.11,78.85 L594.71,84.35 Z" fill="#000"/>
<path d="M611,98.54 L617.79,98.54 L614.39,104.04 Z" fill="#000"/>
<path d="M630.68,116.49 L637.48,116.49 L634.08,121.99 Z" fill="#000"/>
<path d="M650.37,135.21 L657.16,135.21 L653.76,140.71 Z" fill="#000"/>
<path d="M670.05,145.82 L676.85,145.82 L673.45,151.32 Z" fill="#000"/>
<path d="M689.74,164.74 L696.53,164.74 L693.13,170.24 Z" fill="#000"/>
<path d="M709.42,176.12 L716.22,176.12 L712.82,181.62 Z" fill="#000"/>
<path d="M748.79,195.62 L755.59,195.62 L752.19,201.12 Z" fill="#000"/>
<path d="M788.16,194.07 L794.96,194.07 L791.56,199.57 Z" fill="#000"/>
<rect x="468" y="0" width="332" height="1" fill="#222"/>
<rect x="468" y="231" width="332" height="1" fill="#555"/>
<rect x="468" y="0" width="2" height="232" fill="#8a8a8a"/>
<rect x="799" y="0" width="1" height="232" fill="#000"/>
<line x1="476.6" y1="232" x2="476.6" y2="228.3" stroke="#333" stroke-width="1"/>
<text x="477.5" y="249.5" font-size="15" text-anchor="middle" font-weight="normal" font-family='"Liberation Sans", sans-serif' >3</text>
<line x1="515.97" y1="232" x2="515.97" y2="228.3" stroke="#333" stroke-width="1"/>
<text x="516.87" y="249.5" font-size="15" text-anchor="middle" font-weight="normal" font-family='"Liberation Sans", sans-serif' >4</text>
<line x1="555.34" y1="232" x2="555.34" y2="228.3" stroke="#333" stroke-width="1"/>
<text x="556.24" y="249.5" font-size="15" text-anchor="middle" font-weight="normal" font-family='"Liberation Sans", sans-serif' >5</text>
<line x1="594.71" y1="232" x2="594.71" y2="228.3" stroke="#333" stroke-width="1"/>
<text x="595.61" y="249.5" font-size="15" text-anchor="middle" font-weight="normal" font-family='"Liberation Sans", sans-serif' >6</text>
<line x1="634.08" y1="232" x2="634.08" y2="228.3" stroke="#333" stroke-width="1"/>
<text x="634.98" y="249.5" font-size="15" text-anchor="middle" font-weight="normal" font-family='"Liberation Sans", sans-serif' >7</text>
<line x1="673.45" y1="232" x2="673.45" y2="228.3" stroke="#333" stroke-width="1"/>
<text x="674.35" y="249.5" font-size="15" text-anchor="middle" font-weight="normal" font-family='"Liberation Sans", sans-serif' >8</text>
<line x1="712.82" y1="232" x2="712.82" y2="228.3" stroke="#333" stroke-width="1"/>
<text x="713.72" y="249.5" font-size="15" text-anchor="middle" font-weight="normal" font-family='"Liberation Sans", sans-serif' >9</text>
<line x1="752.19" y1="232" x2="752.19" y2="228.3" stroke="#333" stroke-width="1"/>
<text x="753.09" y="249.5" font-size="15" text-anchor="middle" font-weight="normal" font-family='"Liberation Sans", sans-serif' >10</text>
<line x1="791.56" y1="232" x2="791.56" y2="228.3" stroke="#333" stroke-width="1"/>
<text x="792.46" y="249.5" font-size="15" text-anchor="middle" font-weight="normal" font-family='"Liberation Sans", sans-serif' >11</text>
<line x1="468.7" y1="212.4" x2="472.2" y2="212.4" stroke="#333" stroke-width="1"/>
<text x="463.2" y="217.1" font-size="15" text-anchor="end" font-weight="normal" font-family='"Liberation Sans", sans-serif' >0.0</text>
<line x1="468.7" y1="173.8" x2="472.2" y2="173.8" stroke="#333" stroke-width="1"/>
<text x="463.2" y="178.5" font-size="15" text-anchor="end" font-weight="normal" font-family='"Liberation Sans", sans-serif' >0.2</text>
<line x1="468.7" y1="135.2" x2="472.2" y2="135.2" stroke="#333" stroke-width="1"/>
<text x="463.2" y="139.9" font-size="15" text-anchor="end" font-weight="normal" font-family='"Liberation Sans", sans-serif' >0.4</text>
<line x1="468.7" y1="96.6" x2="472.2" y2="96.6" stroke="#333" stroke-width="1"/>
<text x="463.2" y="101.3" font-size="15" text-anchor="end" font-weight="normal" font-family='"Liberation Sans", sans-serif' >0.6</text>
<line x1="468.7" y1="58" x2="472.2" y2="58" stroke="#333" stroke-width="1"/>
<text x="463.2" y="62.7" font-size="15" text-anchor="end" font-weight="normal" font-family='"Liberation Sans", sans-serif' >0.8</text>
<line x1="468.7" y1="19.4" x2="472.2" y2="19.4" stroke="#333" stroke-width="1"/>
<text x="463.2" y="24.1" font-size="15" text-anchor="end" font-weight="normal" font-family='"Liberation Sans", sans-serif' >1.0</text>
<rect x="665.5" y="9.5" width="124.7" height="65.2" fill="#fff" stroke="#444" stroke-width="1"/>
<line x1="672" y1="24.4" x2="705.3" y2="24.4" stroke="#222" stroke-width="1"/>
<circle cx="688.7" cy="24.4" r="3.2" fill="#000"/>
<text x="713.5" y="29.6" font-size="14.7" text-anchor="start" font-weight="normal" font-family='"Liberation Sans", sans-serif' >p-BMQBA</text>
<line x1="672" y1="42.6" x2="705.3" y2="42.6" stroke="#222" stroke-width="1"/>
<circle cx="688.7" cy="42.6" r="2.75" fill="#fff" stroke="#000" stroke-width="1"/>
<text x="713.5" y="47.8" font-size="14.7" text-anchor="start" font-weight="normal" font-family='"Liberation Sans", sans-serif' >m-BMQBA</text>
<line x1="672" y1="60.4" x2="705.3" y2="60.4" stroke="#222" stroke-width="1"/>
<path d="M685.3,57.9 L692.1,57.9 L688.7,63.4 Z" fill="#000"/>
<text x="713.5" y="65.6" font-size="14.7" text-anchor="start" font-weight="normal" font-family='"Liberation Sans", sans-serif' >o-BMQBA</text>
<text x="742.8" y="129.3" font-size="23.4" text-anchor="middle" font-weight="bold" font-family='"Liberation Serif", serif' >Buffer</text>
<text x="423.2" y="111" font-size="16" text-anchor="middle" font-weight="normal" font-family='"Liberation Sans", sans-serif' >I/I'</text>
<text x="634.2" y="275.5" font-size="16.5" text-anchor="middle" font-weight="normal" font-family='"Liberation Sans", sans-serif' >pH</text>
<path d="M66.9,322.25 L67.69,322.21 L68.48,322.16 L69.27,322.12 L70.06,322.07 L70.84,322.03 L71.63,321.98 L72.42,321.94 L73.21,321.89 L74,321.85 L74.79,321.8 L75.58,321.76 L76.37,321.71 L77.16,321.66 L77.95,321.62 L78.73,321.57 L79.52,321.52 L80.31,321.48 L81.1,321.43 L81.89,321.38 L82.68,321.33 L83.47,321.28 L84.26,321.23 L85.05,321.18 L85.84,321.13 L86.62,321.08 L87.41,321.03 L88.2,320.97 L88.99,320.92 L89.78,320.87 L90.57,320.81 L91.36,320.76 L92.15,320.7 L92.94,320.64 L93.73,320.59 L94.51,320.53 L95.3,320.47 L96.09,320.41 L96.88,320.35 L97.67,320.29 L98.46,320.22 L99.25,320.16 L100.04,320.09 L100.83,320.03 L101.61,319.96 L102.4,319.9 L103.19,319.83 L103.98,319.76 L104.77,319.69 L105.56,319.61 L106.35,319.54 L107.14,319.47 L107.93,319.39 L108.72,319.32 L109.5,319.25 L110.29,319.19 L111.08,319.13 L111.87,319.07 L112.66,319.03 L113.45,318.99 L114.24,318.96 L115.03,318.95 L115.82,318.94 L116.61,318.95 L117.39,318.98 L118.18,319.02 L118.97,319.08 L119.76,319.16 L120.55,319.26 L121.34,319.38 L122.13,319.53 L122.92,319.69 L123.71,319.89 L124.49,320.11 L125.28,320.35 L126.07,320.63 L126.86,320.93 L127.65,321.27 L128.44,321.64 L129.23,322.04 L130.02,322.48 L130.81,322.96 L131.6,323.47 L132.38,324.02 L133.17,324.61 L133.96,325.24 L134.75,325.92 L135.54,326.64 L136.33,327.4 L137.12,328.21 L137.91,329.07 L138.7,329.98 L139.49,330.93 L140.27,331.94 L141.06,333 L141.85,334.12 L142.64,335.29 L143.43,336.51 L144.22,337.8 L145.01,339.14 L145.8,340.54 L146.59,342 L147.38,343.52 L148.16,345.08 L148.95,346.69 L149.74,348.34 L150.53,350.02 L151.32,351.72 L152.11,353.45 L152.9,355.2 L153.69,356.96 L154.48,358.72 L155.26,360.48 L156.05,362.24 L156.84,363.99 L157.63,365.73 L158.42,367.45 L159.21,369.13 L160,370.79 L160.79,372.41 L161.58,373.99 L162.37,375.53 L163.15,377.01 L163.94,378.43 L164.73,379.79 L165.52,381.08 L166.31,382.3 L167.1,383.46 L167.89,384.55 L168.68,385.6 L169.47,386.59 L170.26,387.55 L171.04,388.47 L171.83,389.35 L172.62,390.22 L173.41,391.06 L174.2,391.89 L174.99,392.71 L175.78,393.53 L176.57,394.36 L177.36,395.19 L178.15,396.03 L178.93,396.9 L179.72,397.8 L180.51,398.72 L181.3,399.68 L182.09,400.69 L182.88,401.75 L183.67,402.86 L184.46,404.03 L185.25,405.26 L186.03,406.56 L186.82,407.93 L187.61,409.36 L188.4,410.84 L189.19,412.36 L189.98,413.94 L190.77,415.55 L191.56,417.2 L192.35,418.88 L193.14,420.59 L193.92,422.32 L194.71,424.07 L195.5,425.83 L196.29,427.6 L197.08,429.38 L197.87,431.15 L198.66,432.92 L199.45,434.68 L200.24,436.43 L201.03,438.16 L201.81,439.86 L202.6,441.54 L203.39,443.18 L204.18,444.79 L204.97,446.35 L205.76,447.88 L206.55,449.36 L207.34,450.8 L208.13,452.2 L208.92,453.57 L209.7,454.89 L210.49,456.19 L211.28,457.45 L212.07,458.68 L212.86,459.88 L213.65,461.05 L214.44,462.19 L215.23,463.31 L216.02,464.41 L216.8,465.48 L217.59,466.53 L218.38,467.56 L219.17,468.57 L219.96,469.56 L220.75,470.54 L221.54,471.51 L222.33,472.46 L223.12,473.4 L223.91,474.33 L224.69,475.26 L225.48,476.17 L226.27,477.08 L227.06,477.97 L227.85,478.86 L228.64,479.73 L229.43,480.59 L230.22,481.43 L231.01,482.26 L231.8,483.07 L232.58,483.86 L233.37,484.63 L234.16,485.38 L234.95,486.11 L235.74,486.82 L236.53,487.5 L237.32,488.16 L238.11,488.79 L238.9,489.39 L239.68,489.97 L240.47,490.51 L241.26,491.02 L242.05,491.51 L242.84,491.95 L243.63,492.37 L244.42,492.74 L245.21,493.09 L246,493.4 L246.79,493.68 L247.57,493.93 L248.36,494.15 L249.15,494.36 L249.94,494.54 L250.73,494.69 L251.52,494.84 L252.31,494.96 L253.1,495.08 L253.89,495.18 L254.68,495.27 L255.46,495.36 L256.25,495.44 L257.04,495.52 L257.83,495.6 L258.62,495.68 L259.41,495.77 L260.2,495.86 L260.99,495.96 L261.78,496.07 L262.57,496.2 L263.35,496.34 L264.14,496.49 L264.93,496.67 L265.72,496.86 L266.51,497.06 L267.3,497.28 L268.09,497.5 L268.88,497.74 L269.67,497.99 L270.45,498.25 L271.24,498.51 L272.03,498.78 L272.82,499.05 L273.61,499.32 L274.4,499.6 L275.19,499.87 L275.98,500.15 L276.77,500.42 L277.56,500.68 L278.34,500.94 L279.13,501.2 L279.92,501.44 L280.71,501.68 L281.5,501.9 L282.29,502.11 L283.08,502.31 L283.87,502.5 L284.66,502.67 L285.45,502.82 L286.23,502.96 L287.02,503.09 L287.81,503.21 L288.6,503.31 L289.39,503.4 L290.18,503.49 L290.97,503.56 L291.76,503.62 L292.55,503.68 L293.34,503.73 L294.12,503.77 L294.91,503.8 L295.7,503.83 L296.49,503.85 L297.28,503.87 L298.07,503.88 L298.86,503.89 L299.65,503.9 L300.44,503.91 L301.22,503.91 L302.01,503.91 L302.8,503.91 L303.59,503.92 L304.38,503.92 L305.17,503.92 L305.96,503.93 L306.75,503.93 L307.54,503.94 L308.33,503.94 L309.11,503.95 L309.9,503.95 L310.69,503.96 L311.48,503.96 L312.27,503.96 L313.06,503.97 L313.85,503.97 L314.64,503.97 L315.43,503.97 L316.22,503.98 L317,503.98 L317.79,503.98 L318.58,503.98 L319.37,503.97 L320.16,503.97 L320.95,503.97 L321.74,503.96 L322.53,503.95 L323.32,503.95 L324.11,503.94 L324.89,503.93 L325.68,503.91 L326.47,503.9 L327.26,503.88 L328.05,503.87 L328.84,503.85 L329.63,503.83 L330.42,503.8 L331.21,503.78 L331.99,503.75 L332.78,503.72 L333.57,503.69 L334.36,503.65 L335.15,503.61 L335.94,503.57 L336.73,503.53 L337.52,503.49 L338.31,503.44 L339.1,503.39 L339.88,503.33 L340.67,503.27 L341.46,503.21 L342.25,503.15 L343.04,503.08 L343.83,503.01 L344.62,502.94 L345.41,502.87 L346.2,502.79 L346.99,502.7 L347.77,502.62 L348.56,502.53 L349.35,502.44 L350.14,502.35 L350.93,502.25 L351.72,502.15 L352.51,502.05 L353.3,501.95 L354.09,501.84 L354.87,501.74 L355.66,501.63 L356.45,501.51 L357.24,501.4 L358.03,501.28 L358.82,501.16 L359.61,501.04 L360.4,500.92 L361.19,500.8 L361.98,500.67 L362.76,500.54 L363.55,500.42 L364.34,500.28 L365.13,500.15 L365.92,500.02 L366.71,499.88 L367.5,499.75 L368.29,499.61 L369.08,499.47 L369.87,499.33 L370.65,499.19 L371.44,499.05 L372.23,498.91 L373.02,498.77 L373.81,498.63 L374.6,498.48 L375.39,498.34 L376.18,498.19 L376.97,498.05 L377.76,497.9 L378.54,497.75 L379.33,497.61 L380.12,497.46 L380.91,497.31 L381.7,497.16" fill="none" stroke="#111" stroke-width="1.1" />
<path d="M66.9,322.25 L67.69,321.98 L68.48,321.7 L69.27,321.43 L70.06,321.16 L70.84,320.89 L71.63,320.62 L72.42,320.36 L73.21,320.09 L74,319.83 L74.79,319.57 L75.58,319.31 L76.37,319.06 L77.16,318.81 L77.95,318.56 L78.73,318.32 L79.52,318.08 L80.31,317.85 L81.1,317.62 L81.89,317.4 L82.68,317.18 L83.47,316.97 L84.26,316.77 L85.05,316.57 L85.84,316.38 L86.62,316.19 L87.41,316.01 L88.2,315.84 L88.99,315.68 L89.78,315.53 L90.57,315.38 L91.36,315.25 L92.15,315.12 L92.94,315 L93.73,314.9 L94.51,314.8 L95.3,314.71 L96.09,314.64 L96.88,314.57 L97.67,314.52 L98.46,314.47 L99.25,314.44 L100.04,314.42 L100.83,314.42 L101.61,314.42 L102.4,314.44 L103.19,314.47 L103.98,314.52 L104.77,314.58 L105.56,314.65 L106.35,314.74 L107.14,314.84 L107.93,314.96 L108.72,315.09 L109.5,315.23 L110.29,315.38 L111.08,315.55 L111.87,315.72 L112.66,315.9 L113.45,316.1 L114.24,316.29 L115.03,316.5 L115.82,316.71 L116.61,316.92 L117.39,317.14 L118.18,317.37 L118.97,317.59 L119.76,317.82 L120.55,318.05 L121.34,318.28 L122.13,318.5 L122.92,318.73 L123.71,318.95 L124.49,319.17 L125.28,319.39 L126.07,319.6 L126.86,319.81 L127.65,320.01 L128.44,320.21 L129.23,320.39 L130.02,320.57 L130.81,320.74 L131.6,320.89 L132.38,321.04 L133.17,321.17 L133.96,321.3 L134.75,321.4 L135.54,321.5 L136.33,321.58 L137.12,321.64 L137.91,321.68 L138.7,321.71 L139.49,321.72 L140.27,321.71 L141.06,321.69 L141.85,321.64 L142.64,321.57 L143.43,321.47 L144.22,321.36 L145.01,321.21 L145.8,321.05 L146.59,320.86 L147.38,320.65 L148.16,320.43 L148.95,320.2 L149.74,319.96 L150.53,319.73 L151.32,319.5 L152.11,319.28 L152.9,319.08 L153.69,318.9 L154.48,318.75 L155.26,318.62 L156.05,318.53 L156.84,318.49 L157.63,318.49 L158.42,318.54 L159.21,318.64 L160,318.81 L160.79,319.04 L161.58,319.35 L162.37,319.73 L163.15,320.19 L163.94,320.73 L164.73,321.37 L165.52,322.1 L166.31,322.93 L167.1,323.85 L167.89,324.85 L168.68,325.92 L169.47,327.06 L170.26,328.26 L171.04,329.5 L171.83,330.78 L172.62,332.1 L173.41,333.44 L174.2,334.8 L174.99,336.16 L175.78,337.53 L176.57,338.89 L177.36,340.23 L178.15,341.55 L178.93,342.84 L179.72,344.09 L180.51,345.3 L181.3,346.44 L182.09,347.53 L182.88,348.54 L183.67,349.47 L184.46,350.31 L185.25,351.06 L186.03,351.71 L186.82,352.28 L187.61,352.77 L188.4,353.2 L189.19,353.57 L189.98,353.9 L190.77,354.2 L191.56,354.47 L192.35,354.74 L193.14,355 L193.92,355.27 L194.71,355.57 L195.5,355.89 L196.29,356.26 L197.08,356.68 L197.87,357.16 L198.66,357.72 L199.45,358.36 L200.24,359.1 L201.03,359.95 L201.81,360.91 L202.6,362 L203.39,363.23 L204.18,364.6 L204.97,366.14 L205.76,367.84 L206.55,369.68 L207.34,371.67 L208.13,373.78 L208.92,376.01 L209.7,378.35 L210.49,380.78 L211.28,383.29 L212.07,385.88 L212.86,388.53 L213.65,391.23 L214.44,393.98 L215.23,396.75 L216.02,399.54 L216.8,402.33 L217.59,405.12 L218.38,407.9 L219.17,410.65 L219.96,413.37 L220.75,416.04 L221.54,418.65 L222.33,421.19 L223.12,423.65 L223.91,426.01 L224.69,428.28 L225.48,430.44 L226.27,432.5 L227.06,434.47 L227.85,436.35 L228.64,438.15 L229.43,439.87 L230.22,441.52 L231.01,443.1 L231.8,444.62 L232.58,446.09 L233.37,447.52 L234.16,448.89 L234.95,450.24 L235.74,451.55 L236.53,452.83 L237.32,454.1 L238.11,455.35 L238.9,456.59 L239.68,457.83 L240.47,459.07 L241.26,460.32 L242.05,461.59 L242.84,462.87 L243.63,464.18 L244.42,465.52 L245.21,466.9 L246,468.29 L246.79,469.71 L247.57,471.15 L248.36,472.6 L249.15,474.05 L249.94,475.51 L250.73,476.97 L251.52,478.42 L252.31,479.86 L253.1,481.28 L253.89,482.68 L254.68,484.05 L255.46,485.4 L256.25,486.71 L257.04,487.98 L257.83,489.2 L258.62,490.38 L259.41,491.5 L260.2,492.56 L260.99,493.56 L261.78,494.49 L262.57,495.34 L263.35,496.12 L264.14,496.82 L264.93,497.44 L265.72,497.97 L266.51,498.44 L267.3,498.84 L268.09,499.18 L268.88,499.45 L269.67,499.68 L270.45,499.85 L271.24,499.98 L272.03,500.07 L272.82,500.12 L273.61,500.14 L274.4,500.14 L275.19,500.11 L275.98,500.07 L276.77,500.02 L277.56,499.95 L278.34,499.88 L279.13,499.82 L279.92,499.76 L280.71,499.71 L281.5,499.67 L282.29,499.66 L283.08,499.66 L283.87,499.7 L284.66,499.76 L285.45,499.86 L286.23,499.97 L287.02,500.11 L287.81,500.27 L288.6,500.45 L289.39,500.65 L290.18,500.86 L290.97,501.09 L291.76,501.33 L292.55,501.58 L293.34,501.83 L294.12,502.09 L294.91,502.36 L295.7,502.63 L296.49,502.9 L297.28,503.16 L298.07,503.43 L298.86,503.69 L299.65,503.94 L300.44,504.18 L301.22,504.41 L302.01,504.63 L302.8,504.83 L303.59,505.02 L304.38,505.19 L305.17,505.34 L305.96,505.48 L306.75,505.6 L307.54,505.71 L308.33,505.8 L309.11,505.88 L309.9,505.95 L310.69,506 L311.48,506.05 L312.27,506.08 L313.06,506.09 L313.85,506.1 L314.64,506.1 L315.43,506.09 L316.22,506.07 L317,506.04 L317.79,506.01 L318.58,505.96 L319.37,505.91 L320.16,505.85 L320.95,505.79 L321.74,505.72 L322.53,505.65 L323.32,505.57 L324.11,505.49 L324.89,505.4 L325.68,505.31 L326.47,505.22 L327.26,505.13 L328.05,505.04 L328.84,504.94 L329.63,504.85 L330.42,504.76 L331.21,504.66 L331.99,504.57 L332.78,504.48 L333.57,504.39 L334.36,504.31 L335.15,504.22 L335.94,504.15 L336.73,504.07 L337.52,504 L338.31,503.94 L339.1,503.88 L339.88,503.83 L340.67,503.79 L341.46,503.75 L342.25,503.72 L343.04,503.7 L343.83,503.69 L344.62,503.69 L345.41,503.7 L346.2,503.71 L346.99,503.73 L347.77,503.76 L348.56,503.79 L349.35,503.84 L350.14,503.89 L350.93,503.94 L351.72,504.01 L352.51,504.08 L353.3,504.15 L354.09,504.24 L354.87,504.32 L355.66,504.42 L356.45,504.52 L357.24,504.63 L358.03,504.74 L358.82,504.85 L359.61,504.97 L360.4,505.1 L361.19,505.23 L361.98,505.37 L362.76,505.51 L363.55,505.65 L364.34,505.8 L365.13,505.95 L365.92,506.1 L366.71,506.26 L367.5,506.42 L368.29,506.59 L369.08,506.76 L369.87,506.93 L370.65,507.1 L371.44,507.28 L372.23,507.45 L373.02,507.63 L373.81,507.82 L374.6,508 L375.39,508.18 L376.18,508.37 L376.97,508.56 L377.76,508.75 L378.54,508.94 L379.33,509.13 L380.12,509.32 L380.91,509.51 L381.7,509.7" fill="none" stroke="#111" stroke-width="1.1" />
<path d="M66.9,322.25 L67.69,322.38 L68.48,322.52 L69.27,322.65 L70.06,322.79 L70.84,322.92 L71.63,323.06 L72.42,323.19 L73.21,323.32 L74,323.45 L74.79,323.58 L75.58,323.72 L76.37,323.84 L77.16,323.97 L77.95,324.1 L78.73,324.23 L79.52,324.35 L80.31,324.48 L81.1,324.6 L81.89,324.73 L82.68,324.85 L83.47,324.97 L84.26,325.08 L85.05,325.2 L85.84,325.31 L86.62,325.43 L87.41,325.54 L88.2,325.65 L88.99,325.75 L89.78,325.86 L90.57,325.96 L91.36,326.06 L92.15,326.16 L92.94,326.26 L93.73,326.35 L94.51,326.44 L95.3,326.53 L96.09,326.62 L96.88,326.7 L97.67,326.78 L98.46,326.86 L99.25,326.93 L100.04,327 L100.83,327.07 L101.61,327.14 L102.4,327.2 L103.19,327.26 L103.98,327.32 L104.77,327.37 L105.56,327.42 L106.35,327.46 L107.14,327.5 L107.93,327.54 L108.72,327.58 L109.5,327.61 L110.29,327.64 L111.08,327.67 L111.87,327.69 L112.66,327.72 L113.45,327.74 L114.24,327.76 L115.03,327.78 L115.82,327.8 L116.61,327.83 L117.39,327.85 L118.18,327.87 L118.97,327.89 L119.76,327.91 L120.55,327.93 L121.34,327.96 L122.13,327.98 L122.92,328.01 L123.71,328.04 L124.49,328.08 L125.28,328.11 L126.07,328.15 L126.86,328.2 L127.65,328.24 L128.44,328.29 L129.23,328.35 L130.02,328.41 L130.81,328.47 L131.6,328.54 L132.38,328.62 L133.17,328.7 L133.96,328.78 L134.75,328.87 L135.54,328.97 L136.33,329.08 L137.12,329.19 L137.91,329.31 L138.7,329.44 L139.49,329.58 L140.27,329.72 L141.06,329.87 L141.85,330.03 L142.64,330.2 L143.43,330.38 L144.22,330.57 L145.01,330.77 L145.8,330.98 L146.59,331.2 L147.38,331.43 L148.16,331.67 L148.95,331.92 L149.74,332.18 L150.53,332.45 L151.32,332.73 L152.11,333.01 L152.9,333.31 L153.69,333.62 L154.48,333.93 L155.26,334.25 L156.05,334.58 L156.84,334.92 L157.63,335.27 L158.42,335.63 L159.21,335.99 L160,336.36 L160.79,336.74 L161.58,337.13 L162.37,337.52 L163.15,337.92 L163.94,338.33 L164.73,338.74 L165.52,339.16 L166.31,339.59 L167.1,340.02 L167.89,340.46 L168.68,340.9 L169.47,341.35 L170.26,341.81 L171.04,342.27 L171.83,342.74 L172.62,343.21 L173.41,343.69 L174.2,344.17 L174.99,344.66 L175.78,345.15 L176.57,345.65 L177.36,346.15 L178.15,346.66 L178.93,347.17 L179.72,347.68 L180.51,348.2 L181.3,348.72 L182.09,349.24 L182.88,349.77 L183.67,350.31 L184.46,350.84 L185.25,351.38 L186.03,351.92 L186.82,352.47 L187.61,353.03 L188.4,353.6 L189.19,354.18 L189.98,354.78 L190.77,355.4 L191.56,356.04 L192.35,356.7 L193.14,357.38 L193.92,358.1 L194.71,358.84 L195.5,359.62 L196.29,360.44 L197.08,361.29 L197.87,362.18 L198.66,363.11 L199.45,364.09 L200.24,365.12 L201.03,366.2 L201.81,367.33 L202.6,368.51 L203.39,369.75 L204.18,371.05 L204.97,372.42 L205.76,373.84 L206.55,375.32 L207.34,376.86 L208.13,378.44 L208.92,380.07 L209.7,381.75 L210.49,383.46 L211.28,385.2 L212.07,386.98 L212.86,388.78 L213.65,390.6 L214.44,392.44 L215.23,394.3 L216.02,396.17 L216.8,398.04 L217.59,399.91 L218.38,401.79 L219.17,403.66 L219.96,405.51 L220.75,407.36 L221.54,409.19 L222.33,411 L223.12,412.78 L223.91,414.53 L224.69,416.25 L225.48,417.94 L226.27,419.59 L227.06,421.22 L227.85,422.81 L228.64,424.38 L229.43,425.92 L230.22,427.44 L231.01,428.94 L231.8,430.42 L232.58,431.88 L233.37,433.32 L234.16,434.75 L234.95,436.17 L235.74,437.58 L236.53,438.97 L237.32,440.36 L238.11,441.75 L238.9,443.13 L239.68,444.5 L240.47,445.88 L241.26,447.26 L242.05,448.64 L242.84,450.03 L243.63,451.43 L244.42,452.83 L245.21,454.24 L246,455.65 L246.79,457.07 L247.57,458.49 L248.36,459.9 L249.15,461.3 L249.94,462.69 L250.73,464.07 L251.52,465.43 L252.31,466.77 L253.1,468.09 L253.89,469.38 L254.68,470.64 L255.46,471.87 L256.25,473.06 L257.04,474.21 L257.83,475.32 L258.62,476.39 L259.41,477.41 L260.2,478.38 L260.99,479.29 L261.78,480.15 L262.57,480.94 L263.35,481.67 L264.14,482.34 L264.93,482.94 L265.72,483.48 L266.51,483.96 L267.3,484.38 L268.09,484.76 L268.88,485.1 L269.67,485.39 L270.45,485.64 L271.24,485.86 L272.03,486.05 L272.82,486.22 L273.61,486.36 L274.4,486.48 L275.19,486.6 L275.98,486.7 L276.77,486.8 L277.56,486.89 L278.34,486.99 L279.13,487.09 L279.92,487.2 L280.71,487.33 L281.5,487.48 L282.29,487.65 L283.08,487.84 L283.87,488.07 L284.66,488.32 L285.45,488.6 L286.23,488.91 L287.02,489.24 L287.81,489.59 L288.6,489.97 L289.39,490.36 L290.18,490.76 L290.97,491.18 L291.76,491.61 L292.55,492.05 L293.34,492.5 L294.12,492.95 L294.91,493.4 L295.7,493.86 L296.49,494.31 L297.28,494.76 L298.07,495.21 L298.86,495.65 L299.65,496.08 L300.44,496.49 L301.22,496.9 L302.01,497.28 L302.8,497.65 L303.59,498 L304.38,498.33 L305.17,498.64 L305.96,498.94 L306.75,499.21 L307.54,499.46 L308.33,499.7 L309.11,499.92 L309.9,500.12 L310.69,500.31 L311.48,500.48 L312.27,500.64 L313.06,500.78 L313.85,500.91 L314.64,501.03 L315.43,501.13 L316.22,501.22 L317,501.3 L317.79,501.36 L318.58,501.42 L319.37,501.46 L320.16,501.5 L320.95,501.52 L321.74,501.54 L322.53,501.55 L323.32,501.55 L324.11,501.54 L324.89,501.52 L325.68,501.5 L326.47,501.47 L327.26,501.44 L328.05,501.4 L328.84,501.36 L329.63,501.32 L330.42,501.27 L331.21,501.21 L331.99,501.16 L332.78,501.1 L333.57,501.04 L334.36,500.98 L335.15,500.92 L335.94,500.86 L336.73,500.81 L337.52,500.75 L338.31,500.69 L339.1,500.64 L339.88,500.58 L340.67,500.53 L341.46,500.49 L342.25,500.45 L343.04,500.41 L343.83,500.38 L344.62,500.35 L345.41,500.33 L346.2,500.31 L346.99,500.29 L347.77,500.28 L348.56,500.28 L349.35,500.27 L350.14,500.27 L350.93,500.28 L351.72,500.29 L352.51,500.3 L353.3,500.31 L354.09,500.33 L354.87,500.36 L355.66,500.38 L356.45,500.41 L357.24,500.44 L358.03,500.47 L358.82,500.51 L359.61,500.55 L360.4,500.59 L361.19,500.64 L361.98,500.68 L362.76,500.73 L363.55,500.78 L364.34,500.84 L365.13,500.89 L365.92,500.95 L366.71,501.01 L367.5,501.07 L368.29,501.14 L369.08,501.2 L369.87,501.27 L370.65,501.33 L371.44,501.4 L372.23,501.47 L373.02,501.54 L373.81,501.62 L374.6,501.69 L375.39,501.76 L376.18,501.84 L376.97,501.91 L377.76,501.99 L378.54,502.06 L379.33,502.14 L380.12,502.22 L380.91,502.29 L381.7,502.37" fill="none" stroke="#111" stroke-width="1.1" />
<circle cx="66.9" cy="322.25" r="3.2" fill="#000"/>
<circle cx="106.25" cy="327.46" r="3.2" fill="#000"/>
<circle cx="145.6" cy="330.93" r="3.2" fill="#000"/>
<circle cx="165.28" cy="339.03" r="3.2" fill="#000"/>
<circle cx="184.95" cy="351.18" r="3.2" fill="#000"/>
<circle cx="204.62" cy="371.81" r="3.2" fill="#000"/>
<circle cx="224.3" cy="415.4" r="3.2" fill="#000"/>
<circle cx="243.98" cy="452.04" r="3.2" fill="#000"/>
<circle cx="263.65" cy="481.93" r="3.2" fill="#000"/>
<circle cx="283.33" cy="487.91" r="3.2" fill="#000"/>
<circle cx="303" cy="497.74" r="3.2" fill="#000"/>
<circle cx="342.35" cy="500.44" r="3.2" fill="#000"/>
<circle cx="381.7" cy="502.37" r="3.2" fill="#000"/>
<circle cx="66.9" cy="322.25" r="2.75" fill="#fff" stroke="#000" stroke-width="1"/>
<circle cx="106.25" cy="314.73" r="2.75" fill="#fff" stroke="#000" stroke-width="1"/>
<circle cx="145.6" cy="321.09" r="2.75" fill="#fff" stroke="#000" stroke-width="1"/>
<circle cx="165.28" cy="321.86" r="2.75" fill="#fff" stroke="#000" stroke-width="1"/>
<circle cx="184.95" cy="350.79" r="2.75" fill="#fff" stroke="#000" stroke-width="1"/>
<circle cx="204.62" cy="365.45" r="2.75" fill="#fff" stroke="#000" stroke-width="1"/>
<circle cx="224.3" cy="427.16" r="2.75" fill="#fff" stroke="#000" stroke-width="1"/>
<circle cx="243.98" cy="464.77" r="2.75" fill="#fff" stroke="#000" stroke-width="1"/>
<circle cx="263.65" cy="496.39" r="2.75" fill="#fff" stroke="#000" stroke-width="1"/>
<circle cx="283.33" cy="499.67" r="2.75" fill="#fff" stroke="#000" stroke-width="1"/>
<circle cx="303" cy="504.88" r="2.75" fill="#fff" stroke="#000" stroke-width="1"/>
<circle cx="342.35" cy="503.72" r="2.75" fill="#fff" stroke="#000" stroke-width="1"/>
<circle cx="381.7" cy="509.7" r="2.75" fill="#fff" stroke="#000" stroke-width="1"/>
<path d="M63.5,319.75 L70.3,319.75 L66.9,325.25 Z" fill="#000"/>
<path d="M102.85,317.05 L109.65,317.05 L106.25,322.55 Z" fill="#000"/>
<path d="M142.2,337.69 L149,337.69 L145.6,343.19 Z" fill="#000"/>
<path d="M161.88,378.18 L168.68,378.18 L165.28,383.68 Z" fill="#000"/>
<path d="M181.55,402.29 L188.35,402.29 L184.95,407.79 Z" fill="#000"/>
<path d="M201.22,443.17 L208.03,443.17 L204.62,448.67 Z" fill="#000"/>
<path d="M220.9,472.29 L227.7,472.29 L224.3,477.79 Z" fill="#000"/>
<path d="M240.58,490.04 L247.38,490.04 L243.98,495.54 Z" fill="#000"/>
<path d="M260.25,493.89 L267.05,493.89 L263.65,499.39 Z" fill="#000"/>
<path d="M279.93,499.87 L286.73,499.87 L283.33,505.37 Z" fill="#000"/>
<path d="M299.6,501.41 L306.4,501.41 L303,506.91 Z" fill="#000"/>
<path d="M338.95,500.64 L345.75,500.64 L342.35,506.14 Z" fill="#000"/>
<path d="M378.3,494.66 L385.1,494.66 L381.7,500.16 Z" fill="#000"/>
<rect x="58" y="303" width="332" height="1" fill="#333"/>
<rect x="58" y="534" width="332" height="1" fill="#333"/>
<rect x="58" y="303" width="2" height="232" fill="#a0a0a0"/>
<rect x="389" y="303" width="1" height="232" fill="#444"/>
<line x1="66.9" y1="535" x2="66.9" y2="531.3" stroke="#333" stroke-width="1"/>
<text x="66" y="547.4" font-size="14" text-anchor="middle" font-weight="normal" font-family='"Liberation Sans", sans-serif' >3</text>
<line x1="106.25" y1="535" x2="106.25" y2="531.3" stroke="#333" stroke-width="1"/>
<text x="105.35" y="547.4" font-size="14" text-anchor="middle" font-weight="normal" font-family='"Liberation Sans", sans-serif' >4</text>
<line x1="145.6" y1="535" x2="145.6" y2="531.3" stroke="#333" stroke-width="1"/>
<text x="144.7" y="547.4" font-size="14" text-anchor="middle" font-weight="normal" font-family='"Liberation Sans", sans-serif' >5</text>
<line x1="184.95" y1="535" x2="184.95" y2="531.3" stroke="#333" stroke-width="1"/>
<text x="184.05" y="547.4" font-size="14" text-anchor="middle" font-weight="normal" font-family='"Liberation Sans", sans-serif' >6</text>
<line x1="224.3" y1="535" x2="224.3" y2="531.3" stroke="#333" stroke-width="1"/>
<text x="223.4" y="547.4" font-size="14" text-anchor="middle" font-weight="normal" font-family='"Liberation Sans", sans-serif' >7</text>
<line x1="263.65" y1="535" x2="263.65" y2="531.3" stroke="#333" stroke-width="1"/>
<text x="262.75" y="547.4" font-size="14" text-anchor="middle" font-weight="normal" font-family='"Liberation Sans", sans-serif' >8</text>
<line x1="303" y1="535" x2="303" y2="531.3" stroke="#333" stroke-width="1"/>
<text x="302.1" y="547.4" font-size="14" text-anchor="middle" font-weight="normal" font-family='"Liberation Sans", sans-serif' >9</text>
<line x1="342.35" y1="535" x2="342.35" y2="531.3" stroke="#333" stroke-width="1"/>
<text x="341.45" y="547.4" font-size="14" text-anchor="middle" font-weight="normal" font-family='"Liberation Sans", sans-serif' >10</text>
<line x1="381.7" y1="535" x2="381.7" y2="531.3" stroke="#333" stroke-width="1"/>
<text x="380.8" y="547.4" font-size="14" text-anchor="middle" font-weight="normal" font-family='"Liberation Sans", sans-serif' >11</text>
<line x1="59" y1="515.1" x2="62.5" y2="515.1" stroke="#333" stroke-width="1"/>
<text x="52.7" y="519.6" font-size="13" text-anchor="end" font-weight="normal" font-family='"Liberation Sans", sans-serif' >0.0</text>
<line x1="59" y1="476.53" x2="62.5" y2="476.53" stroke="#333" stroke-width="1"/>
<text x="52.7" y="481.03" font-size="13" text-anchor="end" font-weight="normal" font-family='"Liberation Sans", sans-serif' >0.2</text>
<line x1="59" y1="437.96" x2="62.5" y2="437.96" stroke="#333" stroke-width="1"/>
<text x="52.7" y="442.46" font-size="13" text-anchor="end" font-weight="normal" font-family='"Liberation Sans", sans-serif' >0.4</text>
<line x1="59" y1="399.39" x2="62.5" y2="399.39" stroke="#333" stroke-width="1"/>
<text x="52.7" y="403.89" font-size="13" text-anchor="end" font-weight="normal" font-family='"Liberation Sans", sans-serif' >0.6</text>
<line x1="59" y1="360.82" x2="62.5" y2="360.82" stroke="#333" stroke-width="1"/>
<text x="52.7" y="365.32" font-size="13" text-anchor="end" font-weight="normal" font-family='"Liberation Sans", sans-serif' >0.8</text>
<line x1="59" y1="322.25" x2="62.5" y2="322.25" stroke="#333" stroke-width="1"/>
<text x="52.7" y="326.75" font-size="13" text-anchor="end" font-weight="normal" font-family='"Liberation Sans", sans-serif' >1.0</text>
<rect x="253.6" y="314.4" width="124.8" height="65" fill="#fff" stroke="#444" stroke-width="1"/>
<line x1="260" y1="329.6" x2="293.6" y2="329.6" stroke="#222" stroke-width="1"/>
<circle cx="276.6" cy="329.6" r="3.2" fill="#000"/>
<text x="301.7" y="334.8" font-size="14.7" text-anchor="start" font-weight="normal" font-family='"Liberation Sans", sans-serif' >p-BMQBA</text>
<line x1="260" y1="347.2" x2="293.6" y2="347.2" stroke="#222" stroke-width="1"/>
<circle cx="276.6" cy="347.2" r="2.75" fill="#fff" stroke="#000" stroke-width="1"/>
<text x="301.7" y="352.4" font-size="14.7" text-anchor="start" font-weight="normal" font-family='"Liberation Sans", sans-serif' >m-BMQBA</text>
<line x1="260" y1="364.6" x2="293.6" y2="364.6" stroke="#222" stroke-width="1"/>
<path d="M273.2,362.1 L280,362.1 L276.6,367.6 Z" fill="#000"/>
<text x="301.7" y="369.8" font-size="14.7" text-anchor="start" font-weight="normal" font-family='"Liberation Sans", sans-serif' >o-BMQBA</text>
<text x="316.8" y="440.8" font-size="23.4" text-anchor="middle" font-weight="bold" font-family='"Liberation Serif", serif' >Glucose</text>
<text x="17.3" y="418.7" font-size="16" text-anchor="middle" font-weight="normal" font-family='"Liberation Sans", sans-serif' >I/I'</text>
<text x="224.2" y="578" font-size="16.5" text-anchor="middle" font-weight="normal" font-family='"Liberation Sans", sans-serif' >pH</text>
<path d="M476.6,318.25 L477.39,318.44 L478.18,318.64 L478.97,318.83 L479.76,319.02 L480.55,319.22 L481.34,319.42 L482.13,319.62 L482.91,319.82 L483.7,320.03 L484.49,320.24 L485.28,320.45 L486.07,320.67 L486.86,320.89 L487.65,321.12 L488.44,321.35 L489.23,321.59 L490.02,321.84 L490.81,322.09 L491.6,322.35 L492.39,322.61 L493.18,322.88 L493.97,323.17 L494.76,323.46 L495.54,323.76 L496.33,324.06 L497.12,324.38 L497.91,324.71 L498.7,325.05 L499.49,325.4 L500.28,325.76 L501.07,326.13 L501.86,326.51 L502.65,326.91 L503.44,327.31 L504.23,327.74 L505.02,328.17 L505.81,328.62 L506.6,329.08 L507.39,329.56 L508.17,330.05 L508.96,330.56 L509.75,331.09 L510.54,331.63 L511.33,332.18 L512.12,332.76 L512.91,333.35 L513.7,333.96 L514.49,334.58 L515.28,335.23 L516.07,335.89 L516.86,336.58 L517.65,337.28 L518.44,338 L519.23,338.75 L520.02,339.52 L520.8,340.31 L521.59,341.12 L522.38,341.96 L523.17,342.82 L523.96,343.71 L524.75,344.63 L525.54,345.57 L526.33,346.54 L527.12,347.53 L527.91,348.56 L528.7,349.62 L529.49,350.7 L530.28,351.82 L531.07,352.97 L531.86,354.15 L532.65,355.37 L533.43,356.62 L534.22,357.9 L535.01,359.22 L535.8,360.58 L536.59,361.97 L537.38,363.4 L538.17,364.87 L538.96,366.38 L539.75,367.92 L540.54,369.51 L541.33,371.13 L542.12,372.8 L542.91,374.51 L543.7,376.27 L544.49,378.07 L545.28,379.91 L546.06,381.8 L546.85,383.73 L547.64,385.71 L548.43,387.73 L549.22,389.81 L550.01,391.93 L550.8,394.1 L551.59,396.33 L552.38,398.6 L553.17,400.92 L553.96,403.3 L554.75,405.73 L555.54,408.21 L556.33,410.75 L557.12,413.32 L557.91,415.94 L558.69,418.59 L559.48,421.26 L560.27,423.94 L561.06,426.63 L561.85,429.32 L562.64,432.01 L563.43,434.68 L564.22,437.33 L565.01,439.96 L565.8,442.54 L566.59,445.08 L567.38,447.57 L568.17,450.01 L568.96,452.38 L569.75,454.67 L570.54,456.88 L571.32,459.01 L572.11,461.04 L572.9,462.97 L573.69,464.79 L574.48,466.49 L575.27,468.07 L576.06,469.52 L576.85,470.85 L577.64,472.07 L578.43,473.18 L579.22,474.19 L580.01,475.1 L580.8,475.92 L581.59,476.66 L582.38,477.33 L583.17,477.92 L583.95,478.46 L584.74,478.93 L585.53,479.36 L586.32,479.74 L587.11,480.09 L587.9,480.41 L588.69,480.7 L589.48,480.98 L590.27,481.24 L591.06,481.5 L591.85,481.77 L592.64,482.04 L593.43,482.32 L594.22,482.63 L595.01,482.97 L595.8,483.33 L596.58,483.73 L597.37,484.15 L598.16,484.59 L598.95,485.06 L599.74,485.54 L600.53,486.04 L601.32,486.56 L602.11,487.08 L602.9,487.62 L603.69,488.16 L604.48,488.7 L605.27,489.24 L606.06,489.79 L606.85,490.33 L607.64,490.86 L608.43,491.38 L609.21,491.9 L610,492.39 L610.79,492.88 L611.58,493.34 L612.37,493.78 L613.16,494.2 L613.95,494.59 L614.74,494.95 L615.53,495.29 L616.32,495.59 L617.11,495.87 L617.9,496.12 L618.69,496.35 L619.48,496.56 L620.27,496.74 L621.06,496.91 L621.84,497.06 L622.63,497.19 L623.42,497.3 L624.21,497.4 L625,497.49 L625.79,497.57 L626.58,497.64 L627.37,497.7 L628.16,497.75 L628.95,497.8 L629.74,497.84 L630.53,497.88 L631.32,497.93 L632.11,497.97 L632.9,498.01 L633.69,498.05 L634.47,498.11 L635.26,498.16 L636.05,498.22 L636.84,498.29 L637.63,498.36 L638.42,498.43 L639.21,498.5 L640,498.58 L640.79,498.66 L641.58,498.75 L642.37,498.83 L643.16,498.92 L643.95,499.01 L644.74,499.09 L645.53,499.18 L646.32,499.27 L647.1,499.36 L647.89,499.44 L648.68,499.53 L649.47,499.61 L650.26,499.69 L651.05,499.77 L651.84,499.84 L652.63,499.91 L653.42,499.98 L654.21,500.04 L655,500.1 L655.79,500.16 L656.58,500.21 L657.37,500.26 L658.16,500.3 L658.95,500.34 L659.73,500.37 L660.52,500.41 L661.31,500.44 L662.1,500.46 L662.89,500.49 L663.68,500.51 L664.47,500.53 L665.26,500.54 L666.05,500.56 L666.84,500.57 L667.63,500.58 L668.42,500.58 L669.21,500.59 L670,500.59 L670.79,500.59 L671.58,500.59 L672.36,500.59 L673.15,500.59 L673.94,500.59 L674.73,500.58 L675.52,500.58 L676.31,500.57 L677.1,500.56 L677.89,500.56 L678.68,500.55 L679.47,500.55 L680.26,500.54 L681.05,500.53 L681.84,500.53 L682.63,500.52 L683.42,500.52 L684.21,500.52 L684.99,500.51 L685.78,500.51 L686.57,500.51 L687.36,500.51 L688.15,500.52 L688.94,500.52 L689.73,500.53 L690.52,500.54 L691.31,500.55 L692.1,500.57 L692.89,500.58 L693.68,500.6 L694.47,500.62 L695.26,500.65 L696.05,500.67 L696.84,500.7 L697.62,500.73 L698.41,500.76 L699.2,500.79 L699.99,500.82 L700.78,500.85 L701.57,500.89 L702.36,500.92 L703.15,500.95 L703.94,500.98 L704.73,501.01 L705.52,501.04 L706.31,501.06 L707.1,501.08 L707.89,501.11 L708.68,501.12 L709.47,501.14 L710.25,501.15 L711.04,501.16 L711.83,501.17 L712.62,501.17 L713.41,501.16 L714.2,501.16 L714.99,501.14 L715.78,501.13 L716.57,501.11 L717.36,501.08 L718.15,501.06 L718.94,501.03 L719.73,500.99 L720.52,500.95 L721.31,500.91 L722.1,500.87 L722.88,500.82 L723.67,500.77 L724.46,500.72 L725.25,500.66 L726.04,500.6 L726.83,500.54 L727.62,500.48 L728.41,500.42 L729.2,500.35 L729.99,500.28 L730.78,500.21 L731.57,500.14 L732.36,500.06 L733.15,499.99 L733.94,499.91 L734.73,499.83 L735.51,499.76 L736.3,499.68 L737.09,499.6 L737.88,499.52 L738.67,499.43 L739.46,499.35 L740.25,499.27 L741.04,499.19 L741.83,499.11 L742.62,499.02 L743.41,498.94 L744.2,498.86 L744.99,498.78 L745.78,498.7 L746.57,498.62 L747.36,498.54 L748.14,498.46 L748.93,498.38 L749.72,498.31 L750.51,498.23 L751.3,498.16 L752.09,498.09 L752.88,498.02 L753.67,497.95 L754.46,497.88 L755.25,497.82 L756.04,497.75 L756.83,497.69 L757.62,497.63 L758.41,497.57 L759.2,497.51 L759.99,497.46 L760.77,497.4 L761.56,497.35 L762.35,497.3 L763.14,497.25 L763.93,497.2 L764.72,497.15 L765.51,497.1 L766.3,497.05 L767.09,497.01 L767.88,496.96 L768.67,496.92 L769.46,496.88 L770.25,496.84 L771.04,496.8 L771.83,496.76 L772.62,496.72 L773.4,496.68 L774.19,496.64 L774.98,496.61 L775.77,496.57 L776.56,496.54 L777.35,496.5 L778.14,496.47 L778.93,496.44 L779.72,496.4 L780.51,496.37 L781.3,496.34 L782.09,496.31 L782.88,496.28 L783.67,496.25 L784.46,496.22 L785.25,496.19 L786.03,496.16 L786.82,496.13 L787.61,496.1 L788.4,496.07 L789.19,496.04 L789.98,496.01 L790.77,495.99 L791.56,495.96" fill="none" stroke="#111" stroke-width="1.1" />
<path d="M476.6,318.25 L477.39,318.06 L478.18,317.87 L478.97,317.68 L479.76,317.49 L480.55,317.31 L481.34,317.13 L482.13,316.96 L482.91,316.8 L483.7,316.64 L484.49,316.49 L485.28,316.35 L486.07,316.22 L486.86,316.1 L487.65,315.99 L488.44,315.89 L489.23,315.81 L490.02,315.75 L490.81,315.7 L491.6,315.66 L492.39,315.65 L493.18,315.65 L493.97,315.67 L494.76,315.71 L495.54,315.77 L496.33,315.86 L497.12,315.96 L497.91,316.09 L498.7,316.25 L499.49,316.43 L500.28,316.64 L501.07,316.88 L501.86,317.14 L502.65,317.44 L503.44,317.76 L504.23,318.12 L505.02,318.5 L505.81,318.92 L506.6,319.38 L507.39,319.87 L508.17,320.39 L508.96,320.96 L509.75,321.56 L510.54,322.19 L511.33,322.87 L512.12,323.59 L512.91,324.35 L513.7,325.15 L514.49,326 L515.28,326.89 L516.07,327.82 L516.86,328.8 L517.65,329.83 L518.44,330.9 L519.23,332.01 L520.02,333.16 L520.8,334.35 L521.59,335.58 L522.38,336.84 L523.17,338.15 L523.96,339.49 L524.75,340.86 L525.54,342.26 L526.33,343.7 L527.12,345.16 L527.91,346.66 L528.7,348.18 L529.49,349.73 L530.28,351.3 L531.07,352.9 L531.86,354.53 L532.65,356.17 L533.43,357.83 L534.22,359.52 L535.01,361.22 L535.8,362.94 L536.59,364.68 L537.38,366.43 L538.17,368.19 L538.96,369.97 L539.75,371.76 L540.54,373.55 L541.33,375.36 L542.12,377.17 L542.91,378.99 L543.7,380.82 L544.49,382.65 L545.28,384.48 L546.06,386.32 L546.85,388.15 L547.64,389.99 L548.43,391.82 L549.22,393.65 L550.01,395.47 L550.8,397.29 L551.59,399.1 L552.38,400.91 L553.17,402.7 L553.96,404.49 L554.75,406.26 L555.54,408.02 L556.33,409.77 L557.12,411.51 L557.91,413.23 L558.69,414.94 L559.48,416.64 L560.27,418.33 L561.06,420.01 L561.85,421.68 L562.64,423.34 L563.43,425 L564.22,426.64 L565.01,428.28 L565.8,429.91 L566.59,431.54 L567.38,433.16 L568.17,434.77 L568.96,436.39 L569.75,437.99 L570.54,439.6 L571.32,441.2 L572.11,442.8 L572.9,444.39 L573.69,445.99 L574.48,447.59 L575.27,449.18 L576.06,450.78 L576.85,452.37 L577.64,453.96 L578.43,455.54 L579.22,457.12 L580.01,458.68 L580.8,460.23 L581.59,461.76 L582.38,463.27 L583.17,464.76 L583.95,466.23 L584.74,467.68 L585.53,469.1 L586.32,470.49 L587.11,471.84 L587.9,473.17 L588.69,474.45 L589.48,475.7 L590.27,476.91 L591.06,478.07 L591.85,479.19 L592.64,480.26 L593.43,481.29 L594.22,482.26 L595.01,483.17 L595.8,484.03 L596.58,484.84 L597.37,485.6 L598.16,486.32 L598.95,486.99 L599.74,487.61 L600.53,488.2 L601.32,488.75 L602.11,489.26 L602.9,489.75 L603.69,490.2 L604.48,490.63 L605.27,491.04 L606.06,491.42 L606.85,491.78 L607.64,492.13 L608.43,492.46 L609.21,492.79 L610,493.1 L610.79,493.41 L611.58,493.71 L612.37,494.01 L613.16,494.32 L613.95,494.62 L614.74,494.94 L615.53,495.26 L616.32,495.59 L617.11,495.92 L617.9,496.26 L618.69,496.6 L619.48,496.95 L620.27,497.3 L621.06,497.65 L621.84,497.99 L622.63,498.34 L623.42,498.69 L624.21,499.03 L625,499.37 L625.79,499.71 L626.58,500.04 L627.37,500.36 L628.16,500.67 L628.95,500.98 L629.74,501.28 L630.53,501.57 L631.32,501.84 L632.11,502.11 L632.9,502.36 L633.69,502.6 L634.47,502.82 L635.26,503.03 L636.05,503.22 L636.84,503.4 L637.63,503.57 L638.42,503.72 L639.21,503.86 L640,503.99 L640.79,504.11 L641.58,504.22 L642.37,504.32 L643.16,504.41 L643.95,504.49 L644.74,504.56 L645.53,504.63 L646.32,504.69 L647.1,504.74 L647.89,504.79 L648.68,504.83 L649.47,504.87 L650.26,504.9 L651.05,504.93 L651.84,504.96 L652.63,504.99 L653.42,505.01 L654.21,505.04 L655,505.06 L655.79,505.09 L656.58,505.11 L657.37,505.13 L658.16,505.16 L658.95,505.18 L659.73,505.2 L660.52,505.22 L661.31,505.24 L662.1,505.26 L662.89,505.27 L663.68,505.29 L664.47,505.31 L665.26,505.32 L666.05,505.33 L666.84,505.35 L667.63,505.36 L668.42,505.37 L669.21,505.38 L670,505.39 L670.79,505.4 L671.58,505.4 L672.36,505.41 L673.15,505.41 L673.94,505.41 L674.73,505.41 L675.52,505.41 L676.31,505.41 L677.1,505.41 L677.89,505.41 L678.68,505.41 L679.47,505.4 L680.26,505.4 L681.05,505.4 L681.84,505.39 L682.63,505.39 L683.42,505.38 L684.21,505.38 L684.99,505.38 L685.78,505.38 L686.57,505.37 L687.36,505.37 L688.15,505.38 L688.94,505.38 L689.73,505.38 L690.52,505.38 L691.31,505.39 L692.1,505.4 L692.89,505.41 L693.68,505.42 L694.47,505.43 L695.26,505.45 L696.05,505.47 L696.84,505.48 L697.62,505.5 L698.41,505.53 L699.2,505.55 L699.99,505.57 L700.78,505.6 L701.57,505.62 L702.36,505.65 L703.15,505.67 L703.94,505.7 L704.73,505.73 L705.52,505.75 L706.31,505.78 L707.1,505.81 L707.89,505.83 L708.68,505.86 L709.47,505.89 L710.25,505.91 L711.04,505.94 L711.83,505.96 L712.62,505.98 L713.41,506.01 L714.2,506.03 L714.99,506.05 L715.78,506.07 L716.57,506.08 L717.36,506.1 L718.15,506.12 L718.94,506.13 L719.73,506.14 L720.52,506.16 L721.31,506.17 L722.1,506.18 L722.88,506.19 L723.67,506.2 L724.46,506.21 L725.25,506.22 L726.04,506.22 L726.83,506.23 L727.62,506.23 L728.41,506.24 L729.2,506.24 L729.99,506.25 L730.78,506.25 L731.57,506.25 L732.36,506.25 L733.15,506.26 L733.94,506.26 L734.73,506.26 L735.51,506.26 L736.3,506.26 L737.09,506.25 L737.88,506.25 L738.67,506.25 L739.46,506.25 L740.25,506.25 L741.04,506.24 L741.83,506.24 L742.62,506.24 L743.41,506.23 L744.2,506.23 L744.99,506.23 L745.78,506.22 L746.57,506.22 L747.36,506.21 L748.14,506.21 L748.93,506.2 L749.72,506.2 L750.51,506.19 L751.3,506.19 L752.09,506.18 L752.88,506.18 L753.67,506.17 L754.46,506.17 L755.25,506.17 L756.04,506.16 L756.83,506.16 L757.62,506.15 L758.41,506.15 L759.2,506.14 L759.99,506.14 L760.77,506.14 L761.56,506.13 L762.35,506.13 L763.14,506.12 L763.93,506.12 L764.72,506.11 L765.51,506.11 L766.3,506.11 L767.09,506.1 L767.88,506.1 L768.67,506.09 L769.46,506.09 L770.25,506.09 L771.04,506.08 L771.83,506.08 L772.62,506.08 L773.4,506.07 L774.19,506.07 L774.98,506.06 L775.77,506.06 L776.56,506.06 L777.35,506.05 L778.14,506.05 L778.93,506.05 L779.72,506.04 L780.51,506.04 L781.3,506.04 L782.09,506.03 L782.88,506.03 L783.67,506.03 L784.46,506.02 L785.25,506.02 L786.03,506.01 L786.82,506.01 L787.61,506.01 L788.4,506 L789.19,506 L789.98,506 L790.77,505.99 L791.56,505.99" fill="none" stroke="#111" stroke-width="1.1" />
<path d="M476.6,318.25 L477.39,318.14 L478.18,318.04 L478.97,317.94 L479.76,317.84 L480.55,317.74 L481.34,317.64 L482.13,317.55 L482.91,317.46 L483.7,317.38 L484.49,317.3 L485.28,317.23 L486.07,317.16 L486.86,317.1 L487.65,317.05 L488.44,317.01 L489.23,316.98 L490.02,316.96 L490.81,316.95 L491.6,316.94 L492.39,316.95 L493.18,316.98 L493.97,317.01 L494.76,317.06 L495.54,317.12 L496.33,317.2 L497.12,317.29 L497.91,317.4 L498.7,317.53 L499.49,317.67 L500.28,317.83 L501.07,318.01 L501.86,318.2 L502.65,318.42 L503.44,318.66 L504.23,318.91 L505.02,319.19 L505.81,319.49 L506.6,319.81 L507.39,320.16 L508.17,320.53 L508.96,320.92 L509.75,321.34 L510.54,321.79 L511.33,322.26 L512.12,322.75 L512.91,323.28 L513.7,323.83 L514.49,324.41 L515.28,325.02 L516.07,325.66 L516.86,326.33 L517.65,327.03 L518.44,327.76 L519.23,328.52 L520.02,329.31 L520.8,330.12 L521.59,330.96 L522.38,331.83 L523.17,332.73 L523.96,333.65 L524.75,334.59 L525.54,335.56 L526.33,336.55 L527.12,337.57 L527.91,338.61 L528.7,339.67 L529.49,340.76 L530.28,341.86 L531.07,342.99 L531.86,344.13 L532.65,345.3 L533.43,346.49 L534.22,347.69 L535.01,348.91 L535.8,350.15 L536.59,351.41 L537.38,352.69 L538.17,353.98 L538.96,355.28 L539.75,356.6 L540.54,357.94 L541.33,359.29 L542.12,360.65 L542.91,362.03 L543.7,363.42 L544.49,364.82 L545.28,366.23 L546.06,367.65 L546.85,369.09 L547.64,370.53 L548.43,371.98 L549.22,373.44 L550.01,374.91 L550.8,376.39 L551.59,377.88 L552.38,379.37 L553.17,380.86 L553.96,382.37 L554.75,383.88 L555.54,385.39 L556.33,386.91 L557.12,388.43 L557.91,389.95 L558.69,391.48 L559.48,393.02 L560.27,394.56 L561.06,396.1 L561.85,397.65 L562.64,399.2 L563.43,400.76 L564.22,402.32 L565.01,403.89 L565.8,405.46 L566.59,407.03 L567.38,408.61 L568.17,410.2 L568.96,411.79 L569.75,413.39 L570.54,414.99 L571.32,416.59 L572.11,418.2 L572.9,419.81 L573.69,421.43 L574.48,423.06 L575.27,424.69 L576.06,426.32 L576.85,427.96 L577.64,429.6 L578.43,431.23 L579.22,432.86 L580.01,434.47 L580.8,436.08 L581.59,437.68 L582.38,439.26 L583.17,440.82 L583.95,442.36 L584.74,443.88 L585.53,445.38 L586.32,446.84 L587.11,448.28 L587.9,449.68 L588.69,451.05 L589.48,452.38 L590.27,453.67 L591.06,454.92 L591.85,456.12 L592.64,457.28 L593.43,458.38 L594.22,459.44 L595.01,460.44 L595.8,461.38 L596.58,462.27 L597.37,463.11 L598.16,463.9 L598.95,464.65 L599.74,465.35 L600.53,466.02 L601.32,466.65 L602.11,467.25 L602.9,467.81 L603.69,468.35 L604.48,468.86 L605.27,469.34 L606.06,469.81 L606.85,470.26 L607.64,470.69 L608.43,471.11 L609.21,471.52 L610,471.92 L610.79,472.32 L611.58,472.72 L612.37,473.11 L613.16,473.51 L613.95,473.92 L614.74,474.34 L615.53,474.76 L616.32,475.2 L617.11,475.64 L617.9,476.09 L618.69,476.54 L619.48,476.99 L620.27,477.45 L621.06,477.91 L621.84,478.37 L622.63,478.83 L623.42,479.29 L624.21,479.74 L625,480.19 L625.79,480.63 L626.58,481.06 L627.37,481.49 L628.16,481.9 L628.95,482.31 L629.74,482.7 L630.53,483.08 L631.32,483.44 L632.11,483.78 L632.9,484.11 L633.69,484.42 L634.47,484.72 L635.26,484.99 L636.05,485.24 L636.84,485.47 L637.63,485.69 L638.42,485.89 L639.21,486.07 L640,486.24 L640.79,486.39 L641.58,486.53 L642.37,486.66 L643.16,486.78 L643.95,486.89 L644.74,486.98 L645.53,487.07 L646.32,487.15 L647.1,487.22 L647.89,487.29 L648.68,487.35 L649.47,487.41 L650.26,487.46 L651.05,487.51 L651.84,487.55 L652.63,487.6 L653.42,487.64 L654.21,487.69 L655,487.73 L655.79,487.78 L656.58,487.82 L657.37,487.87 L658.16,487.92 L658.95,487.96 L659.73,488.01 L660.52,488.05 L661.31,488.1 L662.1,488.14 L662.89,488.19 L663.68,488.23 L664.47,488.27 L665.26,488.31 L666.05,488.35 L666.84,488.39 L667.63,488.42 L668.42,488.46 L669.21,488.49 L670,488.52 L670.79,488.55 L671.58,488.57 L672.36,488.6 L673.15,488.62 L673.94,488.64 L674.73,488.65 L675.52,488.66 L676.31,488.68 L677.1,488.69 L677.89,488.7 L678.68,488.71 L679.47,488.71 L680.26,488.73 L681.05,488.74 L681.84,488.75 L682.63,488.77 L683.42,488.78 L684.21,488.8 L684.99,488.83 L685.78,488.86 L686.57,488.89 L687.36,488.93 L688.15,488.97 L688.94,489.02 L689.73,489.08 L690.52,489.14 L691.31,489.21 L692.1,489.28 L692.89,489.37 L693.68,489.46 L694.47,489.56 L695.26,489.67 L696.05,489.79 L696.84,489.91 L697.62,490.04 L698.41,490.17 L699.2,490.31 L699.99,490.45 L700.78,490.6 L701.57,490.74 L702.36,490.89 L703.15,491.04 L703.94,491.19 L704.73,491.34 L705.52,491.48 L706.31,491.63 L707.1,491.77 L707.89,491.91 L708.68,492.05 L709.47,492.18 L710.25,492.31 L711.04,492.43 L711.83,492.54 L712.62,492.65 L713.41,492.75 L714.2,492.84 L714.99,492.93 L715.78,493 L716.57,493.07 L717.36,493.14 L718.15,493.19 L718.94,493.24 L719.73,493.28 L720.52,493.32 L721.31,493.35 L722.1,493.37 L722.88,493.39 L723.67,493.4 L724.46,493.41 L725.25,493.42 L726.04,493.41 L726.83,493.41 L727.62,493.4 L728.41,493.38 L729.2,493.36 L729.99,493.34 L730.78,493.31 L731.57,493.28 L732.36,493.25 L733.15,493.21 L733.94,493.17 L734.73,493.13 L735.51,493.08 L736.3,493.03 L737.09,492.99 L737.88,492.93 L738.67,492.88 L739.46,492.83 L740.25,492.77 L741.04,492.71 L741.83,492.66 L742.62,492.6 L743.41,492.54 L744.2,492.48 L744.99,492.42 L745.78,492.36 L746.57,492.3 L747.36,492.24 L748.14,492.18 L748.93,492.13 L749.72,492.07 L750.51,492.02 L751.3,491.96 L752.09,491.91 L752.88,491.86 L753.67,491.81 L754.46,491.77 L755.25,491.72 L756.04,491.68 L756.83,491.64 L757.62,491.6 L758.41,491.56 L759.2,491.53 L759.99,491.49 L760.77,491.46 L761.56,491.43 L762.35,491.4 L763.14,491.37 L763.93,491.34 L764.72,491.31 L765.51,491.29 L766.3,491.27 L767.09,491.24 L767.88,491.22 L768.67,491.2 L769.46,491.18 L770.25,491.16 L771.04,491.15 L771.83,491.13 L772.62,491.12 L773.4,491.1 L774.19,491.09 L774.98,491.08 L775.77,491.07 L776.56,491.05 L777.35,491.04 L778.14,491.03 L778.93,491.03 L779.72,491.02 L780.51,491.01 L781.3,491 L782.09,491 L782.88,490.99 L783.67,490.98 L784.46,490.98 L785.25,490.97 L786.03,490.97 L786.82,490.96 L787.61,490.96 L788.4,490.96 L789.19,490.95 L789.98,490.95 L790.77,490.94 L791.56,490.94" fill="none" stroke="#111" stroke-width="1.1" />
<circle cx="476.6" cy="318.25" r="3.2" fill="#000"/>
<circle cx="515.97" cy="325.58" r="3.2" fill="#000"/>
<circle cx="555.34" cy="385.01" r="3.2" fill="#000"/>
<circle cx="575.02" cy="424.18" r="3.2" fill="#000"/>
<circle cx="594.71" cy="460.07" r="3.2" fill="#000"/>
<circle cx="614.39" cy="474.15" r="3.2" fill="#000"/>
<circle cx="634.08" cy="484.57" r="3.2" fill="#000"/>
<circle cx="653.76" cy="487.66" r="3.2" fill="#000"/>
<circle cx="673.45" cy="488.62" r="3.2" fill="#000"/>
<circle cx="693.13" cy="489.4" r="3.2" fill="#000"/>
<circle cx="712.82" cy="492.68" r="3.2" fill="#000"/>
<circle cx="752.19" cy="491.9" r="3.2" fill="#000"/>
<circle cx="791.56" cy="490.94" r="3.2" fill="#000"/>
<circle cx="476.6" cy="318.25" r="2.75" fill="#fff" stroke="#000" stroke-width="1"/>
<circle cx="515.97" cy="327.7" r="2.75" fill="#fff" stroke="#000" stroke-width="1"/>
<circle cx="555.34" cy="407.59" r="2.75" fill="#fff" stroke="#000" stroke-width="1"/>
<circle cx="575.02" cy="448.68" r="2.75" fill="#fff" stroke="#000" stroke-width="1"/>
<circle cx="594.71" cy="482.84" r="2.75" fill="#fff" stroke="#000" stroke-width="1"/>
<circle cx="614.39" cy="494.8" r="2.75" fill="#fff" stroke="#000" stroke-width="1"/>
<circle cx="634.08" cy="502.71" r="2.75" fill="#fff" stroke="#000" stroke-width="1"/>
<circle cx="653.76" cy="505.03" r="2.75" fill="#fff" stroke="#000" stroke-width="1"/>
<circle cx="673.45" cy="505.41" r="2.75" fill="#fff" stroke="#000" stroke-width="1"/>
<circle cx="693.13" cy="505.41" r="2.75" fill="#fff" stroke="#000" stroke-width="1"/>
<circle cx="712.82" cy="505.99" r="2.75" fill="#fff" stroke="#000" stroke-width="1"/>
<circle cx="752.19" cy="506.18" r="2.75" fill="#fff" stroke="#000" stroke-width="1"/>
<circle cx="791.56" cy="505.99" r="2.75" fill="#fff" stroke="#000" stroke-width="1"/>
<path d="M473.2,315.75 L480,315.75 L476.6,321.25 Z" fill="#000"/>
<path d="M512.57,333.31 L519.37,333.31 L515.97,338.81 Z" fill="#000"/>
<path d="M551.94,405.09 L558.74,405.09 L555.34,410.59 Z" fill="#000"/>
<path d="M571.62,465.09 L578.42,465.09 L575.02,470.59 Z" fill="#000"/>
<path d="M591.31,480.34 L598.11,480.34 L594.71,485.84 Z" fill="#000"/>
<path d="M611,492.3 L617.79,492.3 L614.39,497.8 Z" fill="#000"/>
<path d="M630.68,495.58 L637.48,495.58 L634.08,501.08 Z" fill="#000"/>
<path d="M650.37,497.51 L657.16,497.51 L653.76,503.01 Z" fill="#000"/>
<path d="M670.05,498.09 L676.85,498.09 L673.45,503.59 Z" fill="#000"/>
<path d="M689.74,498.09 L696.53,498.09 L693.13,503.59 Z" fill="#000"/>
<path d="M709.42,498.67 L716.22,498.67 L712.82,504.17 Z" fill="#000"/>
<path d="M748.79,495.58 L755.59,495.58 L752.19,501.08 Z" fill="#000"/>
<path d="M788.16,493.46 L794.96,493.46 L791.56,498.96 Z" fill="#000"/>
<rect x="468" y="299" width="332" height="1" fill="#333"/>
<rect x="468" y="530" width="332" height="1" fill="#555"/>
<rect x="468" y="299" width="2" height="232" fill="#888"/>
<rect x="799" y="299" width="1" height="232" fill="#000"/>
<line x1="476.6" y1="531" x2="476.6" y2="527.3" stroke="#333" stroke-width="1"/>
<text x="477.4" y="547.7" font-size="15" text-anchor="middle" font-weight="normal" font-family='"Liberation Sans", sans-serif' >3</text>
<line x1="515.97" y1="531" x2="515.97" y2="527.3" stroke="#333" stroke-width="1"/>
<text x="516.77" y="547.7" font-size="15" text-anchor="middle" font-weight="normal" font-family='"Liberation Sans", sans-serif' >4</text>
<line x1="555.34" y1="531" x2="555.34" y2="527.3" stroke="#333" stroke-width="1"/>
<text x="556.14" y="547.7" font-size="15" text-anchor="middle" font-weight="normal" font-family='"Liberation Sans", sans-serif' >5</text>
<line x1="594.71" y1="531" x2="594.71" y2="527.3" stroke="#333" stroke-width="1"/>
<text x="595.51" y="547.7" font-size="15" text-anchor="middle" font-weight="normal" font-family='"Liberation Sans", sans-serif' >6</text>
<line x1="634.08" y1="531" x2="634.08" y2="527.3" stroke="#333" stroke-width="1"/>
<text x="634.88" y="547.7" font-size="15" text-anchor="middle" font-weight="normal" font-family='"Liberation Sans", sans-serif' >7</text>
<line x1="673.45" y1="531" x2="673.45" y2="527.3" stroke="#333" stroke-width="1"/>
<text x="674.25" y="547.7" font-size="15" text-anchor="middle" font-weight="normal" font-family='"Liberation Sans", sans-serif' >8</text>
<line x1="712.82" y1="531" x2="712.82" y2="527.3" stroke="#333" stroke-width="1"/>
<text x="713.62" y="547.7" font-size="15" text-anchor="middle" font-weight="normal" font-family='"Liberation Sans", sans-serif' >9</text>
<line x1="752.19" y1="531" x2="752.19" y2="527.3" stroke="#333" stroke-width="1"/>
<text x="752.99" y="547.7" font-size="15" text-anchor="middle" font-weight="normal" font-family='"Liberation Sans", sans-serif' >10</text>
<line x1="791.56" y1="531" x2="791.56" y2="527.3" stroke="#333" stroke-width="1"/>
<text x="792.36" y="547.7" font-size="15" text-anchor="middle" font-weight="normal" font-family='"Liberation Sans", sans-serif' >11</text>
<line x1="468.8" y1="511.2" x2="472.3" y2="511.2" stroke="#333" stroke-width="1"/>
<text x="463.3" y="515.9" font-size="15" text-anchor="end" font-weight="normal" font-family='"Liberation Sans", sans-serif' >0.0</text>
<line x1="468.8" y1="472.61" x2="472.3" y2="472.61" stroke="#333" stroke-width="1"/>
<text x="463.3" y="477.31" font-size="15" text-anchor="end" font-weight="normal" font-family='"Liberation Sans", sans-serif' >0.2</text>
<line x1="468.8" y1="434.02" x2="472.3" y2="434.02" stroke="#333" stroke-width="1"/>
<text x="463.3" y="438.72" font-size="15" text-anchor="end" font-weight="normal" font-family='"Liberation Sans", sans-serif' >0.4</text>
<line x1="468.8" y1="395.43" x2="472.3" y2="395.43" stroke="#333" stroke-width="1"/>
<text x="463.3" y="400.13" font-size="15" text-anchor="end" font-weight="normal" font-family='"Liberation Sans", sans-serif' >0.6</text>
<line x1="468.8" y1="356.84" x2="472.3" y2="356.84" stroke="#333" stroke-width="1"/>
<text x="463.3" y="361.54" font-size="15" text-anchor="end" font-weight="normal" font-family='"Liberation Sans", sans-serif' >0.8</text>
<line x1="468.8" y1="318.25" x2="472.3" y2="318.25" stroke="#333" stroke-width="1"/>
<text x="463.3" y="322.95" font-size="15" text-anchor="end" font-weight="normal" font-family='"Liberation Sans", sans-serif' >1.0</text>
<rect x="665.6" y="311.3" width="124.7" height="64.6" fill="#fff" stroke="#444" stroke-width="1"/>
<line x1="672" y1="325.7" x2="705.3" y2="325.7" stroke="#222" stroke-width="1"/>
<circle cx="688.5" cy="325.7" r="3.2" fill="#000"/>
<text x="713.3" y="330.9" font-size="14.7" text-anchor="start" font-weight="normal" font-family='"Liberation Sans", sans-serif' >p-BMQBA</text>
<line x1="672" y1="343.7" x2="705.3" y2="343.7" stroke="#222" stroke-width="1"/>
<circle cx="688.5" cy="343.7" r="2.75" fill="#fff" stroke="#000" stroke-width="1"/>
<text x="713.3" y="348.9" font-size="14.7" text-anchor="start" font-weight="normal" font-family='"Liberation Sans", sans-serif' >m-BMQBA</text>
<line x1="672" y1="361.5" x2="705.3" y2="361.5" stroke="#222" stroke-width="1"/>
<path d="M685.1,359 L691.9,359 L688.5,364.5 Z" fill="#000"/>
<text x="713.3" y="366.7" font-size="14.7" text-anchor="start" font-weight="normal" font-family='"Liberation Sans", sans-serif' >o-BMQBA</text>
<text x="733.7" y="431.4" font-size="23.4" text-anchor="middle" font-weight="bold" font-family='"Liberation Serif", serif' >Fructose</text>
<text x="428.6" y="419.5" font-size="16" text-anchor="middle" font-weight="normal" font-family='"Liberation Sans", sans-serif' >I/I'</text>
<text x="634.2" y="574.5" font-size="16.5" text-anchor="middle" font-weight="normal" font-family='"Liberation Sans", sans-serif' >pH</text>
</svg>
</body></html>
